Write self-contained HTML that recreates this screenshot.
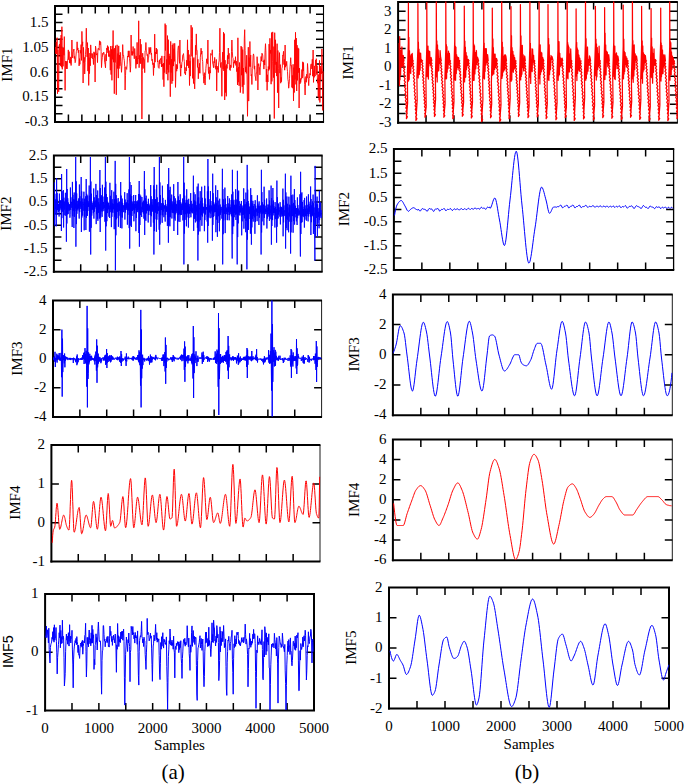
<!DOCTYPE html><html><head><meta charset="utf-8"><style>html,body{margin:0;padding:0;background:#fff;overflow:hidden;}svg{display:block;}</style></head><body><svg width="685" height="784" viewBox="0 0 685 784"><rect width="685" height="784" fill="#fff"/><path d="M68.42 6.00V13.50M68.42 122.00V114.50M81.85 6.00V13.50M81.85 122.00V114.50M95.28 6.00V13.50M95.28 122.00V114.50M108.70 6.00V13.50M108.70 122.00V114.50M122.12 6.00V13.50M122.12 122.00V114.50M135.55 6.00V13.50M135.55 122.00V114.50M148.97 6.00V13.50M148.97 122.00V114.50M162.40 6.00V13.50M162.40 122.00V114.50M175.82 6.00V13.50M175.82 122.00V114.50M189.25 6.00V13.50M189.25 122.00V114.50M202.68 6.00V13.50M202.68 122.00V114.50M216.10 6.00V13.50M216.10 122.00V114.50M229.53 6.00V13.50M229.53 122.00V114.50M242.95 6.00V13.50M242.95 122.00V114.50M256.38 6.00V13.50M256.38 122.00V114.50M269.80 6.00V13.50M269.80 122.00V114.50M283.23 6.00V13.50M283.23 122.00V114.50M296.65 6.00V13.50M296.65 122.00V114.50M310.07 6.00V13.50M310.07 122.00V114.50M55.00 113.71H62.50M323.50 113.71H316.00M55.00 105.43H62.50M323.50 105.43H316.00M55.00 97.14H62.50M323.50 97.14H316.00M55.00 88.86H62.50M323.50 88.86H316.00M55.00 80.57H62.50M323.50 80.57H316.00M55.00 72.29H62.50M323.50 72.29H316.00M55.00 64.00H62.50M323.50 64.00H316.00M55.00 55.71H62.50M323.50 55.71H316.00M55.00 47.43H62.50M323.50 47.43H316.00M55.00 39.14H62.50M323.50 39.14H316.00M55.00 30.86H62.50M323.50 30.86H316.00M55.00 22.57H62.50M323.50 22.57H316.00M55.00 14.29H62.50M323.50 14.29H316.00" stroke="#000" stroke-width="1.5" fill="none"/><path d="M323.05 6.00H55.00V122.00" stroke="#000" stroke-width="2" fill="none" stroke-linecap="square"/><path d="M55.00 122.00H323.05" stroke="#000" stroke-width="2" fill="none" stroke-linecap="square"/><path d="M323.50 6.00V122.00" stroke="#000" stroke-width="1.1" fill="none"/><path d="M80.71 155.60V163.10M80.71 271.80V264.30M107.52 155.60V163.10M107.52 271.80V264.30M134.33 155.60V163.10M134.33 271.80V264.30M161.14 155.60V163.10M161.14 271.80V264.30M187.95 155.60V163.10M187.95 271.80V264.30M214.76 155.60V163.10M214.76 271.80V264.30M241.57 155.60V163.10M241.57 271.80V264.30M268.38 155.60V163.10M268.38 271.80V264.30M295.19 155.60V163.10M295.19 271.80V264.30M53.90 260.18H61.40M322.00 260.18H314.50M53.90 248.56H61.40M322.00 248.56H314.50M53.90 236.94H61.40M322.00 236.94H314.50M53.90 225.32H61.40M322.00 225.32H314.50M53.90 213.70H61.40M322.00 213.70H314.50M53.90 202.08H61.40M322.00 202.08H314.50M53.90 190.46H61.40M322.00 190.46H314.50M53.90 178.84H61.40M322.00 178.84H314.50M53.90 167.22H61.40M322.00 167.22H314.50" stroke="#000" stroke-width="1.5" fill="none"/><path d="M321.65 155.60H53.90V271.80" stroke="#000" stroke-width="2" fill="none" stroke-linecap="square"/><path d="M53.90 271.80H321.65" stroke="#000" stroke-width="2" fill="none" stroke-linecap="square"/><path d="M322.00 155.60V271.80" stroke="#000" stroke-width="1.3" fill="none"/><path d="M79.86 300.60V308.10M79.86 416.90V409.40M106.72 300.60V308.10M106.72 416.90V409.40M133.58 300.60V308.10M133.58 416.90V409.40M160.44 300.60V308.10M160.44 416.90V409.40M187.30 300.60V308.10M187.30 416.90V409.40M214.16 300.60V308.10M214.16 416.90V409.40M241.02 300.60V308.10M241.02 416.90V409.40M267.88 300.60V308.10M267.88 416.90V409.40M294.74 300.60V308.10M294.74 416.90V409.40M53.00 387.82H60.50M321.60 387.82H314.10M53.00 358.75H60.50M321.60 358.75H314.10M53.00 329.68H60.50M321.60 329.68H314.10" stroke="#000" stroke-width="1.5" fill="none"/><path d="M321.05 300.60H53.00V416.90" stroke="#000" stroke-width="2" fill="none" stroke-linecap="square"/><path d="M53.00 416.90H321.05" stroke="#000" stroke-width="2" fill="none" stroke-linecap="square"/><path d="M321.60 300.60V416.90" stroke="#000" stroke-width="0.9" fill="none"/><path d="M78.26 445.10V452.60M78.26 561.50V554.00M105.12 445.10V452.60M105.12 561.50V554.00M131.98 445.10V452.60M131.98 561.50V554.00M158.84 445.10V452.60M158.84 561.50V554.00M185.70 445.10V452.60M185.70 561.50V554.00M212.56 445.10V452.60M212.56 561.50V554.00M239.42 445.10V452.60M239.42 561.50V554.00M266.28 445.10V452.60M266.28 561.50V554.00M293.14 445.10V452.60M293.14 561.50V554.00M51.40 522.70H58.90M320.00 522.70H312.50M51.40 483.90H58.90M320.00 483.90H312.50" stroke="#000" stroke-width="1.5" fill="none"/><path d="M319.45 445.10H51.40V561.50" stroke="#000" stroke-width="2" fill="none" stroke-linecap="square"/><path d="M51.40 561.50H319.45" stroke="#000" stroke-width="2" fill="none" stroke-linecap="square"/><path d="M320.00 445.10V561.50" stroke="#000" stroke-width="0.9" fill="none"/><path d="M71.99 594.00V601.50M71.99 710.40V702.90M98.88 594.00V601.50M98.88 710.40V702.90M125.77 594.00V601.50M125.77 710.40V702.90M152.66 594.00V601.50M152.66 710.40V702.90M179.55 594.00V601.50M179.55 710.40V702.90M206.44 594.00V601.50M206.44 710.40V702.90M233.33 594.00V601.50M233.33 710.40V702.90M260.22 594.00V601.50M260.22 710.40V702.90M287.11 594.00V601.50M287.11 710.40V702.90M45.10 652.20H52.60M314.00 652.20H306.50" stroke="#000" stroke-width="1.5" fill="none"/><path d="M314.00 594.00H45.10V710.40" stroke="#000" stroke-width="2" fill="none" stroke-linecap="square"/><path d="M45.10 710.40H314.00" stroke="#000" stroke-width="2" fill="none" stroke-linecap="square"/><path d="M314.00 594.00V710.40" stroke="#000" stroke-width="2.0" fill="none"/><path d="M426.03 2.00V9.50M426.03 122.80V115.30M453.96 2.00V9.50M453.96 122.80V115.30M481.89 2.00V9.50M481.89 122.80V115.30M509.82 2.00V9.50M509.82 122.80V115.30M537.75 2.00V9.50M537.75 122.80V115.30M565.68 2.00V9.50M565.68 122.80V115.30M593.61 2.00V9.50M593.61 122.80V115.30M621.54 2.00V9.50M621.54 122.80V115.30M649.47 2.00V9.50M649.47 122.80V115.30M398.10 113.51H405.60M677.40 113.51H669.90M398.10 104.22H405.60M677.40 104.22H669.90M398.10 94.92H405.60M677.40 94.92H669.90M398.10 85.63H405.60M677.40 85.63H669.90M398.10 76.34H405.60M677.40 76.34H669.90M398.10 67.05H405.60M677.40 67.05H669.90M398.10 57.75H405.60M677.40 57.75H669.90M398.10 48.46H405.60M677.40 48.46H669.90M398.10 39.17H405.60M677.40 39.17H669.90M398.10 29.88H405.60M677.40 29.88H669.90M398.10 20.58H405.60M677.40 20.58H669.90M398.10 11.29H405.60M677.40 11.29H669.90" stroke="#000" stroke-width="1.5" fill="none"/><path d="M676.85 2.00H398.10V122.80" stroke="#000" stroke-width="2" fill="none" stroke-linecap="square"/><path d="M398.10 122.80H676.85" stroke="#000" stroke-width="2" fill="none" stroke-linecap="square"/><path d="M677.40 2.00V122.80" stroke="#000" stroke-width="0.9" fill="none"/><path d="M421.87 149.10V156.60M421.87 270.00V262.50M449.84 149.10V156.60M449.84 270.00V262.50M477.81 149.10V156.60M477.81 270.00V262.50M505.78 149.10V156.60M505.78 270.00V262.50M533.75 149.10V156.60M533.75 270.00V262.50M561.72 149.10V156.60M561.72 270.00V262.50M589.69 149.10V156.60M589.69 270.00V262.50M617.66 149.10V156.60M617.66 270.00V262.50M645.63 149.10V156.60M645.63 270.00V262.50M393.90 257.91H401.40M673.60 257.91H666.10M393.90 245.82H401.40M673.60 245.82H666.10M393.90 233.73H401.40M673.60 233.73H666.10M393.90 221.64H401.40M673.60 221.64H666.10M393.90 209.55H401.40M673.60 209.55H666.10M393.90 197.46H401.40M673.60 197.46H666.10M393.90 185.37H401.40M673.60 185.37H666.10M393.90 173.28H401.40M673.60 173.28H666.10M393.90 161.19H401.40M673.60 161.19H666.10" stroke="#000" stroke-width="1.5" fill="none"/><path d="M673.25 149.10H393.90V270.00" stroke="#000" stroke-width="2" fill="none" stroke-linecap="square"/><path d="M393.90 270.00H673.25" stroke="#000" stroke-width="2" fill="none" stroke-linecap="square"/><path d="M673.60 149.10V270.00" stroke="#000" stroke-width="1.3" fill="none"/><path d="M420.84 294.40V301.90M420.84 415.20V407.70M448.78 294.40V301.90M448.78 415.20V407.70M476.72 294.40V301.90M476.72 415.20V407.70M504.66 294.40V301.90M504.66 415.20V407.70M532.60 294.40V301.90M532.60 415.20V407.70M560.54 294.40V301.90M560.54 415.20V407.70M588.48 294.40V301.90M588.48 415.20V407.70M616.42 294.40V301.90M616.42 415.20V407.70M644.36 294.40V301.90M644.36 415.20V407.70M392.90 385.00H400.40M672.30 385.00H664.80M392.90 354.80H400.40M672.30 354.80H664.80M392.90 324.60H400.40M672.30 324.60H664.80" stroke="#000" stroke-width="1.5" fill="none"/><path d="M671.75 294.40H392.90V415.20" stroke="#000" stroke-width="2" fill="none" stroke-linecap="square"/><path d="M392.90 415.20H671.75" stroke="#000" stroke-width="2" fill="none" stroke-linecap="square"/><path d="M672.30 294.40V415.20" stroke="#000" stroke-width="0.9" fill="none"/><path d="M420.84 439.50V447.00M420.84 560.20V552.70M448.78 439.50V447.00M448.78 560.20V552.70M476.72 439.50V447.00M476.72 560.20V552.70M504.66 439.50V447.00M504.66 560.20V552.70M532.60 439.50V447.00M532.60 560.20V552.70M560.54 439.50V447.00M560.54 560.20V552.70M588.48 439.50V447.00M588.48 560.20V552.70M616.42 439.50V447.00M616.42 560.20V552.70M644.36 439.50V447.00M644.36 560.20V552.70M392.90 540.08H400.40M672.30 540.08H664.80M392.90 519.97H400.40M672.30 519.97H664.80M392.90 499.85H400.40M672.30 499.85H664.80M392.90 479.73H400.40M672.30 479.73H664.80M392.90 459.62H400.40M672.30 459.62H664.80" stroke="#000" stroke-width="1.5" fill="none"/><path d="M671.75 439.50H392.90V560.20" stroke="#000" stroke-width="2" fill="none" stroke-linecap="square"/><path d="M392.90 560.20H671.75" stroke="#000" stroke-width="2" fill="none" stroke-linecap="square"/><path d="M672.30 439.50V560.20" stroke="#000" stroke-width="0.9" fill="none"/><path d="M417.00 587.50V595.00M417.00 708.50V701.00M445.00 587.50V595.00M445.00 708.50V701.00M473.00 587.50V595.00M473.00 708.50V701.00M501.00 587.50V595.00M501.00 708.50V701.00M529.00 587.50V595.00M529.00 708.50V701.00M557.00 587.50V595.00M557.00 708.50V701.00M585.00 587.50V595.00M585.00 708.50V701.00M613.00 587.50V595.00M613.00 708.50V701.00M641.00 587.50V595.00M641.00 708.50V701.00M389.00 678.25H396.50M669.00 678.25H661.50M389.00 648.00H396.50M669.00 648.00H661.50M389.00 617.75H396.50M669.00 617.75H661.50" stroke="#000" stroke-width="1.5" fill="none"/><path d="M669.00 587.50H389.00V708.50" stroke="#000" stroke-width="2" fill="none" stroke-linecap="square"/><path d="M389.00 708.50H669.00" stroke="#000" stroke-width="2" fill="none" stroke-linecap="square"/><path d="M669.00 587.50V708.50" stroke="#000" stroke-width="2.0" fill="none"/><clipPath id="ca1"><rect x="54.5" y="5.5" width="269.5" height="117.0"/></clipPath><path d="M55.5 47.0L55.9 54.0L56.3 42.0L56.7 54.0L57.1 37.7L57.5 93.7L57.9 49.7L58.3 83.4L58.7 91.8L59.1 45.7L59.5 44.2L59.9 54.8L60.3 38.5L60.7 66.1L61.1 35.1L61.5 67.2L61.9 26.7L62.3 69.3L62.7 48.0L63.1 66.3L63.5 47.6L63.9 55.1L64.3 36.6L64.7 56.1L65.1 90.4L65.5 61.0L65.9 61.8L66.3 68.8L66.7 61.3L67.1 68.9L67.5 60.4L67.9 59.0L68.3 49.9L68.7 59.7L69.1 51.6L69.5 62.8L69.9 59.6L70.3 63.4L70.7 56.9L71.1 65.5L71.5 59.7L71.9 40.0L72.3 54.1L72.7 57.9L73.1 52.1L73.5 51.4L73.9 49.0L74.3 58.5L74.7 56.3L75.1 62.7L75.5 61.7L75.9 56.7L76.3 51.6L76.7 51.0L77.1 41.8L77.5 50.0L77.9 47.9L78.3 52.7L78.7 50.2L79.1 65.9L79.5 58.6L79.9 64.3L80.3 50.2L80.7 53.2L81.1 44.6L81.5 60.4L81.9 31.4L82.3 45.6L82.7 41.8L83.1 83.0L83.5 47.4L83.9 62.7L84.3 57.4L84.7 74.0L85.1 62.7L85.5 54.4L85.9 48.3L86.3 28.2L86.7 46.4L87.1 56.9L87.5 42.6L87.9 71.1L88.3 48.0L88.7 85.4L89.1 57.7L89.5 73.6L89.9 53.1L90.3 65.8L90.7 44.9L91.1 52.7L91.5 53.9L91.9 58.1L92.3 53.5L92.7 59.0L93.1 58.3L93.5 64.5L93.9 51.8L94.3 57.5L94.7 52.7L95.1 82.0L95.5 46.1L95.9 48.5L96.3 53.7L96.7 55.1L97.1 53.3L97.5 62.6L97.9 49.6L98.3 48.1L98.7 48.7L99.1 50.2L99.5 40.8L99.9 45.0L100.3 41.5L100.7 42.1L101.1 51.4L101.5 67.6L101.9 61.1L102.3 57.6L102.7 53.3L103.1 54.4L103.5 52.1L103.9 52.5L104.3 55.9L104.7 62.3L105.1 64.5L105.5 67.8L105.9 54.3L106.3 60.9L106.7 48.1L107.1 50.1L107.5 45.6L107.9 52.8L108.3 46.7L108.7 56.6L109.1 50.6L109.5 56.5L109.9 54.5L110.3 70.2L110.7 46.1L111.1 74.6L111.5 49.3L111.9 80.3L112.3 45.9L112.7 59.4L113.1 30.5L113.5 62.2L113.9 49.2L114.3 93.7L114.7 48.1L115.1 62.4L115.5 45.7L115.9 63.8L116.3 94.8L116.7 64.8L117.1 44.8L117.5 68.5L117.9 53.6L118.3 78.1L118.7 45.9L119.1 68.6L119.5 55.1L119.9 65.8L120.3 52.3L120.7 61.6L121.1 65.1L121.5 72.3L121.9 65.7L122.3 56.6L122.7 44.6L123.1 54.3L123.5 54.9L123.9 58.4L124.3 60.3L124.7 66.5L125.1 90.0L125.5 75.3L125.9 66.7L126.3 68.9L126.7 69.4L127.1 64.6L127.5 56.0L127.9 57.0L128.3 50.9L128.7 57.1L129.1 50.8L129.5 58.7L129.9 63.0L130.3 72.2L130.7 66.3L131.1 35.0L131.5 53.8L131.9 55.4L132.3 51.4L132.7 55.3L133.1 46.5L133.5 53.1L133.9 54.5L134.3 58.8L134.7 48.5L135.1 54.7L135.5 58.3L135.9 68.4L136.3 56.1L136.7 64.3L137.1 42.4L137.5 64.0L137.9 58.0L138.3 58.6L138.7 20.8L139.1 67.7L139.5 55.4L139.9 63.4L140.3 39.1L140.7 63.7L141.1 44.3L141.5 57.5L141.9 119.0L142.3 70.4L142.7 53.2L143.1 68.5L143.5 57.5L143.9 59.9L144.3 59.7L144.7 72.7L145.1 50.8L145.5 50.4L145.9 42.5L146.3 52.1L146.7 52.6L147.1 55.5L147.5 54.5L147.9 62.4L148.3 58.0L148.7 57.2L149.1 47.3L149.5 54.1L149.9 48.4L150.3 52.5L150.7 47.3L151.1 54.5L151.5 53.1L151.9 60.6L152.3 59.3L152.7 64.5L153.1 63.4L153.5 75.5L153.9 62.8L154.3 67.8L154.7 34.1L155.1 62.2L155.5 52.1L155.9 53.6L156.3 48.0L156.7 53.9L157.1 49.4L157.5 61.9L157.9 60.8L158.3 67.6L158.7 67.9L159.1 68.3L159.5 59.8L159.9 63.9L160.3 60.2L160.7 58.9L161.1 57.9L161.5 67.0L161.9 55.9L162.3 66.4L162.7 64.0L163.1 79.6L163.5 63.2L163.9 86.7L164.3 56.0L164.7 72.6L165.1 23.6L165.5 50.5L165.9 25.1L166.3 74.1L166.7 59.4L167.1 69.7L167.5 35.6L167.9 80.3L168.3 39.7L168.7 72.4L169.1 53.8L169.5 64.6L169.9 56.0L170.3 96.7L170.7 41.4L171.1 72.6L171.5 59.3L171.9 83.7L172.3 45.0L172.7 81.0L173.1 43.5L173.5 66.1L173.9 48.7L174.3 61.4L174.7 43.3L175.1 58.9L175.5 87.4L175.9 73.0L176.3 64.3L176.7 71.2L177.1 65.3L177.5 68.7L177.9 50.3L178.3 46.2L178.7 45.9L179.1 57.2L179.5 63.3L179.9 40.0L180.3 68.6L180.7 76.2L181.1 64.8L181.5 68.0L181.9 62.3L182.3 61.5L182.7 55.2L183.1 54.9L183.5 53.6L183.9 58.9L184.3 61.4L184.7 73.3L185.1 72.1L185.5 74.8L185.9 67.4L186.3 70.9L186.7 60.2L187.1 65.7L187.5 39.8L187.9 65.6L188.3 50.0L188.7 67.9L189.1 54.6L189.5 85.5L189.9 60.9L190.3 76.1L190.7 57.6L191.1 25.2L191.5 38.6L191.9 56.3L192.3 27.5L192.7 78.4L193.1 58.6L193.5 83.5L193.9 57.5L194.3 81.5L194.7 88.9L195.1 75.0L195.5 45.3L195.9 54.8L196.3 33.9L196.7 50.5L197.1 50.3L197.5 67.4L197.9 59.3L198.3 78.8L198.7 67.4L199.1 73.0L199.5 63.3L199.9 73.3L200.3 57.8L200.7 52.8L201.1 48.2L201.5 54.2L201.9 51.0L202.3 59.3L202.7 61.5L203.1 73.3L203.5 76.7L203.9 83.2L204.3 72.7L204.7 79.6L205.1 85.0L205.5 75.8L205.9 68.3L206.3 63.5L206.7 58.8L207.1 63.5L207.5 63.8L207.9 40.0L208.3 70.4L208.7 73.6L209.1 66.9L209.5 79.4L209.9 70.2L210.3 73.1L210.7 53.5L211.1 54.6L211.5 54.9L211.9 54.7L212.3 49.8L212.7 63.1L213.1 64.8L213.5 67.7L213.9 61.5L214.3 62.8L214.7 57.4L215.1 67.4L215.5 66.2L215.9 69.3L216.3 59.4L216.7 91.0L217.1 66.0L217.5 69.3L217.9 67.8L218.3 72.5L218.7 62.3L219.1 61.1L219.5 52.4L219.9 28.2L220.3 62.5L220.7 67.5L221.1 62.3L221.5 74.0L221.9 96.3L222.3 60.3L222.7 52.1L223.1 69.3L223.5 32.2L223.9 71.0L224.3 33.6L224.7 100.0L225.1 60.2L225.5 92.5L225.9 65.7L226.3 96.3L226.7 64.4L227.1 68.4L227.5 55.4L227.9 64.0L228.3 48.0L228.7 58.8L229.1 53.3L229.5 69.6L229.9 69.4L230.3 70.5L230.7 64.9L231.1 67.6L231.5 51.7L231.9 40.0L232.3 51.2L232.7 57.5L233.1 58.5L233.5 67.7L233.9 62.1L234.3 63.0L234.7 60.4L235.1 63.5L235.5 56.7L235.9 65.4L236.3 61.1L236.7 71.6L237.1 68.4L237.5 85.0L237.9 37.8L238.3 82.2L238.7 67.0L239.1 85.8L239.5 62.5L239.9 69.2L240.3 92.6L240.7 86.5L241.1 46.1L241.5 75.2L241.9 47.2L242.3 86.8L242.7 49.6L243.1 93.6L243.5 68.0L243.9 84.8L244.3 38.9L244.7 29.7L245.1 50.6L245.5 71.9L245.9 66.8L246.3 73.4L246.7 55.2L247.1 79.0L247.5 116.3L247.9 84.2L248.3 47.2L248.7 101.1L249.1 57.6L249.5 66.4L249.9 41.5L250.3 66.7L250.7 55.0L251.1 75.7L251.5 74.5L251.9 84.5L252.3 68.5L252.7 68.0L253.1 55.9L253.5 53.9L253.9 56.0L254.3 69.2L254.7 65.9L255.1 76.0L255.5 77.0L255.9 80.7L256.3 72.9L256.7 73.1L257.1 56.7L257.5 63.8L257.9 90.0L258.3 66.5L258.7 63.6L259.1 66.6L259.5 68.0L259.9 74.9L260.3 67.1L260.7 62.8L261.1 56.5L261.5 61.1L261.9 53.2L262.3 53.7L262.7 55.0L263.1 62.0L263.5 60.8L263.9 69.1L264.3 59.8L264.7 65.0L265.1 50.3L265.5 43.7L265.9 52.2L266.3 81.8L266.7 69.0L267.1 90.4L267.5 74.8L267.9 82.0L268.3 66.5L268.7 70.7L269.1 44.1L269.5 69.4L269.9 38.3L270.3 53.5L270.7 50.0L271.1 84.2L271.5 32.6L271.9 81.4L272.3 61.7L272.7 31.9L273.1 63.4L273.5 77.6L273.9 46.6L274.3 118.5L274.7 32.7L275.1 64.7L275.5 39.8L275.9 72.9L276.3 61.9L276.7 76.1L277.1 43.7L277.5 92.7L277.9 50.5L278.3 68.6L278.7 108.0L279.1 63.9L279.5 52.6L279.9 73.1L280.3 64.6L280.7 83.2L281.1 77.4L281.5 81.7L281.9 68.4L282.3 67.1L282.7 55.1L283.1 55.7L283.5 51.3L283.9 64.6L284.3 59.4L284.7 70.2L285.1 45.0L285.5 67.2L285.9 63.7L286.3 65.6L286.7 61.3L287.1 68.0L287.5 71.5L287.9 79.5L288.3 81.5L288.7 88.2L289.1 84.5L289.5 78.3L289.9 69.6L290.3 63.7L290.7 57.7L291.1 66.0L291.5 65.5L291.9 87.4L292.3 75.4L292.7 88.2L293.1 64.3L293.5 101.0L293.9 67.6L294.3 92.5L294.7 39.8L295.1 79.5L295.5 32.3L295.9 84.4L296.3 38.1L296.7 91.0L297.1 45.2L297.5 80.4L297.9 47.8L298.3 72.7L298.7 48.6L299.1 108.0L299.5 68.1L299.9 84.0L300.3 78.4L300.7 82.5L301.1 79.3L301.5 79.2L301.9 69.5L302.3 78.1L302.7 61.8L303.1 71.1L303.5 62.6L303.9 76.2L304.3 79.0L304.7 84.7L305.1 95.0L305.5 82.2L305.9 76.5L306.3 82.3L306.7 74.2L307.1 78.1L307.5 63.5L307.9 69.3L308.3 79.2L308.7 85.6L309.1 78.5L309.5 78.0L309.9 73.4L310.3 75.1L310.7 65.1L311.1 63.8L311.5 64.2L311.9 69.0L312.3 59.3L312.7 76.2L313.1 50.0L313.5 82.4L313.9 70.5L314.3 77.3L314.7 65.9L315.1 76.1L315.5 60.1L315.9 65.8L316.3 58.7L316.7 74.6L317.1 65.7L317.5 83.2L317.9 78.5L318.3 97.0L318.7 74.5L319.1 100.3L319.5 60.4L319.9 102.5L320.3 66.0L320.7 79.9L321.1 68.6L321.5 73.8L321.9 49.0L322.3 64.9L322.7 110.4L323.1 71.3" stroke="#ff0000" stroke-width="0.9" fill="none" stroke-linejoin="round" clip-path="url(#ca1)"/><clipPath id="ca2"><rect x="53.4" y="155.1" width="269.1" height="117.2"/></clipPath><path d="M54.4 182.4L54.6 225.5L54.9 193.7L55.1 214.2L55.4 199.4L55.6 209.1L55.9 207.1L56.1 226.4L56.4 225.0L56.6 178.0L56.9 215.0L57.1 192.9L57.4 210.1L57.6 199.7L57.9 209.5L58.1 204.0L58.4 212.0L58.6 203.8L58.9 208.1L59.1 216.5L59.4 193.6L59.6 210.8L59.9 200.0L60.1 208.0L60.4 202.8L60.6 200.5L60.9 209.6L61.1 203.9L61.4 231.0L61.6 174.0L61.9 218.1L62.1 191.2L62.4 211.7L62.6 199.0L62.9 208.2L63.1 198.1L63.4 190.1L63.6 227.5L63.9 197.7L64.2 215.3L64.4 201.5L64.7 209.7L64.9 208.0L65.2 204.7L65.4 192.8L65.7 215.7L65.9 199.1L66.2 210.0L66.4 241.7L66.7 169.0L66.9 223.5L67.2 189.0L67.4 214.4L67.7 198.1L67.9 199.7L68.2 214.1L68.4 202.5L68.7 209.2L68.9 210.5L69.2 204.7L69.4 210.3L69.7 204.2L69.9 217.7L70.2 214.4L70.4 187.5L70.7 209.9L70.9 197.3L71.2 207.7L71.4 201.8L71.7 203.7L71.9 208.7L72.2 227.0L72.4 181.9L72.7 216.2L72.9 194.9L73.2 210.9L73.4 200.8L73.7 199.3L73.9 228.0L74.2 192.5L74.4 216.8L74.7 199.7L74.9 211.1L75.2 202.9L75.4 208.4L75.7 157.0L75.9 246.7L76.2 181.3L76.4 224.1L76.7 193.4L76.9 213.8L77.2 201.1L77.4 208.8L77.7 204.3L77.9 210.4L78.2 200.5L78.4 208.5L78.7 198.4L78.9 206.3L79.2 218.6L79.4 184.5L79.7 212.1L79.9 196.2L80.2 208.9L80.4 201.4L80.7 203.3L80.9 206.8L81.2 177.0L81.4 232.0L81.7 191.4L81.9 217.5L82.2 198.5L82.4 211.0L82.7 215.6L82.9 201.8L83.2 210.7L83.4 204.0L83.7 204.8L83.9 191.7L84.2 230.3L84.4 198.7L84.7 216.8L84.9 202.3L85.2 210.7L85.4 209.6L85.7 196.3L85.9 230.0L86.2 179.0L86.4 217.9L86.7 193.8L86.9 211.9L87.2 200.5L87.4 215.9L87.7 195.5L87.9 210.9L88.2 201.3L88.4 206.7L88.7 203.1L88.9 206.6L89.2 185.5L89.4 231.7L89.7 195.7L89.9 217.5L90.2 200.8L90.4 157.0L90.7 254.5L90.9 181.5L91.2 227.8L91.4 193.7L91.7 215.7L91.9 213.6L92.2 202.9L92.4 209.4L92.7 205.0L92.9 209.8L93.2 201.3L93.4 213.2L93.7 188.5L93.9 218.6L94.2 197.3L94.4 211.7L94.7 201.7L94.9 208.6L95.2 200.5L95.4 207.0L95.7 204.1L95.9 183.9L96.2 224.1L96.4 195.0L96.7 214.2L96.9 200.5L97.2 209.7L97.4 218.8L97.7 190.5L97.9 220.8L98.2 198.3L98.4 212.8L98.7 202.2L98.9 209.1L99.2 204.4L99.4 218.6L99.7 197.2L99.9 170.0L100.2 232.0L100.4 188.1L100.7 217.8L100.9 197.2L101.2 211.4L101.4 209.0L101.7 195.3L101.9 214.3L102.2 216.8L102.4 184.8L102.7 211.5L102.9 196.6L103.2 208.9L103.4 202.0L103.7 205.7L103.9 210.8L104.2 205.0L104.4 207.9L104.7 187.5L104.9 221.7L105.2 196.9L105.4 157.0L105.7 250.6L105.9 181.7L106.2 226.3L106.4 194.0L106.7 215.2L106.9 221.2L107.2 197.1L107.4 213.1L107.7 201.7L107.9 209.4L108.2 203.4L108.4 209.1L108.7 202.8L108.9 216.7L109.2 205.5L109.4 211.4L109.7 218.0L109.9 182.8L110.2 212.2L110.4 195.8L110.7 209.4L110.9 201.7L111.2 205.4L111.4 227.1L111.7 190.2L111.9 216.8L112.2 199.2L112.4 211.7L112.7 203.2L112.9 212.8L113.2 204.0L113.4 209.2L113.7 205.2L113.9 191.7L114.2 229.2L114.4 199.1L114.7 216.8L114.9 202.9L115.2 160.9L115.4 270.3L115.7 183.8L115.9 235.3L116.2 195.2L116.4 219.3L116.7 199.2L116.9 218.2L117.2 202.9L117.4 211.8L117.7 204.2L117.9 206.8L118.2 198.0L118.4 226.8L118.7 202.4L118.9 215.7L119.2 204.5L119.4 210.7L119.7 201.6L119.9 208.5L120.2 217.8L120.4 228.0L120.7 182.0L120.9 217.4L121.2 195.6L121.4 212.1L121.7 201.8L121.9 228.4L122.2 198.6L122.4 217.6L122.7 203.1L122.9 212.2L123.2 205.1L123.4 207.2L123.7 206.7L123.9 212.1L124.2 205.6L124.4 209.7L124.7 192.2L124.9 219.6L125.2 199.5L125.4 212.6L125.7 203.2L125.9 209.4L126.2 202.2L126.4 208.0L126.7 203.5L126.9 209.9L127.2 193.2L127.4 224.7L127.7 200.1L127.9 214.9L128.2 203.5L128.4 210.5L128.7 202.2L128.9 189.4L129.2 228.1L129.4 157.0L129.7 248.6L129.9 182.0L130.2 225.7L130.4 194.5L130.7 215.3L130.9 211.9L131.2 185.0L131.4 227.0L131.7 196.0L131.9 216.0L132.2 201.5L132.4 211.0L132.7 204.2L132.9 208.3L133.2 203.2L133.4 209.8L133.7 195.0L133.9 221.3L134.2 201.1L134.4 213.5L134.7 204.1L134.9 209.9L135.2 204.4L135.4 208.1L135.7 195.0L135.9 231.2L136.2 201.1L136.4 218.0L136.7 204.1L136.9 212.0L137.2 202.1L137.4 210.2L137.7 200.5L137.9 212.2L138.2 202.1L138.4 209.6L138.7 194.0L138.9 233.0L139.2 181.0L139.4 246.7L139.7 194.1L139.9 225.0L140.2 200.7L140.4 215.1L140.7 195.6L140.9 212.6L141.2 206.8L141.4 213.3L141.7 217.0L141.9 197.0L142.2 212.2L142.4 202.6L142.7 209.7L142.9 205.2L143.2 201.6L143.4 213.6L143.7 200.7L143.9 218.6L144.2 185.4L144.4 171.0L144.7 235.0L144.9 189.2L145.2 219.8L145.4 198.3L145.7 212.9L145.9 220.8L146.2 195.7L146.4 213.4L146.7 201.6L146.9 210.1L147.2 204.7L147.4 210.7L147.7 204.0L147.9 207.6L148.2 222.5L148.4 198.8L148.7 215.0L148.9 203.6L149.2 211.2L149.4 205.7L149.7 206.8L149.9 209.6L150.2 204.8L150.4 215.2L150.7 185.0L150.9 226.8L151.2 196.3L151.4 216.2L151.7 201.9L151.9 211.4L152.2 199.2L152.4 210.2L152.7 204.7L152.9 211.7L153.2 205.6L153.4 222.7L153.7 185.4L153.9 254.5L154.2 167.0L154.4 231.1L154.7 189.3L154.9 219.3L155.2 199.5L155.4 212.6L155.7 199.1L155.9 209.2L156.2 204.2L156.4 231.7L156.7 184.8L156.9 219.7L157.2 197.4L157.4 213.7L157.7 203.1L157.9 207.8L158.2 202.1L158.4 210.9L158.7 206.5L158.9 217.7L159.2 229.8L159.4 157.0L159.7 244.7L159.9 182.4L160.2 224.4L160.4 195.1L160.7 215.2L160.9 208.3L161.2 205.8L161.4 210.0L161.7 203.2L161.9 212.0L162.2 222.8L162.4 185.7L162.7 215.3L162.9 197.9L163.2 211.6L163.4 203.4L163.7 205.3L163.9 217.2L164.2 206.0L164.4 208.5L164.7 205.2L164.9 214.2L165.2 221.6L165.4 199.9L165.7 214.8L165.9 204.3L166.2 211.3L166.4 206.3L166.7 207.3L166.9 212.0L167.2 207.2L167.4 225.9L167.7 184.2L167.9 216.9L168.2 197.3L168.4 242.7L168.7 168.0L168.9 225.4L169.2 190.0L169.4 216.7L169.7 200.0L169.9 226.3L170.2 186.8L170.4 217.2L170.7 198.5L170.9 212.6L171.2 203.8L171.4 209.7L171.7 194.6L171.9 218.5L172.2 201.4L172.4 212.8L172.7 204.7L172.9 210.2L173.2 203.4L173.4 213.2L173.7 184.2L173.9 231.0L174.2 196.2L174.4 218.4L174.7 202.2L174.9 212.7L175.2 220.6L175.4 198.4L175.7 214.4L175.9 203.8L176.2 211.3L176.4 206.2L176.7 204.3L176.9 212.9L177.2 200.6L177.4 211.7L177.7 235.0L177.9 182.0L178.2 221.6L178.4 196.4L178.7 214.9L178.9 203.0L179.2 214.2L179.4 203.6L179.7 200.0L179.9 221.9L180.2 194.3L180.4 215.1L180.7 202.0L180.9 211.7L181.2 205.5L181.4 215.0L181.7 203.6L181.9 209.7L182.2 206.7L182.4 210.0L182.7 198.5L182.9 220.4L183.2 203.4L183.4 213.8L183.7 157.0L183.9 264.4L184.2 182.7L184.4 233.6L184.7 195.6L184.9 219.6L185.2 219.9L185.4 202.8L185.7 214.2L185.9 205.9L186.2 199.9L186.4 226.3L186.7 189.3L186.9 217.4L187.2 199.8L187.4 212.9L187.7 204.6L187.9 213.7L188.2 202.9L188.4 227.6L188.7 198.8L188.9 218.1L189.2 204.1L189.4 213.3L189.7 206.6L189.9 213.8L190.2 208.1L190.4 210.9L190.7 193.1L190.9 217.3L191.2 200.9L191.4 212.5L191.7 204.7L191.9 210.3L192.2 203.8L192.4 213.3L192.7 207.9L192.9 211.1L193.2 197.9L193.4 175.7L193.7 230.9L193.9 192.2L194.2 218.7L194.4 200.4L194.7 213.1L194.9 218.8L195.2 194.3L195.4 222.4L195.7 201.5L195.9 214.9L196.2 205.1L196.4 211.4L196.7 206.8L196.9 221.3L197.2 186.6L197.4 227.8L197.7 197.7L197.9 260.5L198.2 183.6L198.4 234.6L198.7 197.4L198.9 221.7L199.2 203.7L199.4 209.2L199.7 207.9L199.9 231.4L200.2 191.2L200.4 220.1L200.7 200.9L200.9 214.5L201.2 205.3L201.4 215.2L201.7 186.7L201.9 225.8L202.2 197.8L202.4 216.5L202.7 203.3L202.9 212.3L203.2 207.6L203.4 210.3L203.7 206.8L203.9 213.4L204.2 207.7L204.4 231.2L204.7 185.8L204.9 220.1L205.2 198.5L205.4 214.5L205.7 204.3L205.9 209.8L206.2 207.7L206.4 209.3L206.7 207.0L206.9 217.4L207.2 221.6L207.4 191.3L207.7 242.7L207.9 159.0L208.2 225.9L208.4 186.5L208.7 217.4L208.9 199.0L209.2 204.0L209.4 212.4L209.7 205.5L209.9 213.8L210.2 218.2L210.4 191.0L210.7 213.6L210.9 201.0L211.2 211.4L211.4 205.5L211.7 206.3L211.9 217.6L212.2 206.5L212.4 240.7L212.7 173.7L212.9 224.9L213.2 193.2L213.4 217.0L213.7 202.1L213.9 216.2L214.2 207.1L214.4 212.3L214.7 204.5L214.9 211.7L215.2 203.4L215.4 212.0L215.7 185.4L215.9 232.2L216.2 197.3L216.4 219.6L216.7 203.3L216.9 213.8L217.2 208.9L217.4 236.8L217.7 190.0L217.9 223.0L218.2 200.6L218.4 216.2L218.7 205.4L218.9 207.5L219.2 208.6L219.4 231.3L219.7 198.7L219.9 220.3L220.2 204.5L220.4 214.8L220.7 207.2L220.9 212.6L221.2 206.9L221.4 209.9L221.7 209.3L221.9 218.7L222.2 205.7L222.4 168.8L222.7 264.4L222.9 189.1L223.2 234.2L223.4 199.3L223.7 220.4L223.9 219.7L224.2 205.1L224.4 213.9L224.7 208.8L224.9 187.6L225.2 233.1L225.4 198.6L225.7 220.1L225.9 204.0L226.2 214.2L226.4 212.4L226.7 207.6L226.9 211.8L227.2 209.1L227.4 220.2L227.7 196.0L227.9 214.9L228.2 203.4L228.4 212.2L228.7 206.8L228.9 212.2L229.2 220.3L229.4 198.4L229.7 215.0L229.9 204.5L230.2 212.3L230.4 207.3L230.7 209.2L230.9 214.0L231.2 200.0L231.4 216.3L231.7 194.4L231.9 231.1L232.2 258.5L232.4 169.8L232.7 234.1L232.9 191.7L233.2 221.9L233.4 201.7L233.7 226.3L233.9 199.8L234.2 217.2L234.4 204.8L234.7 213.0L234.9 210.5L235.2 205.8L235.4 214.7L235.7 189.3L235.9 220.0L236.2 199.5L236.4 214.4L236.7 204.6L236.9 211.8L237.2 264.4L237.4 170.8L237.7 237.1L237.9 192.2L238.2 223.4L238.4 202.0L238.7 190.6L238.9 214.9L239.2 201.2L239.4 212.4L239.7 206.0L239.9 215.5L240.2 208.0L240.4 212.5L240.7 203.8L240.9 211.4L241.2 208.9L241.4 201.0L241.7 235.3L241.9 205.4L242.2 221.3L242.4 207.7L242.7 215.0L242.9 211.8L243.2 205.9L243.4 214.6L243.7 188.3L243.9 228.7L244.2 199.1L244.4 218.4L244.7 204.6L244.9 213.7L245.2 204.2L245.4 221.5L245.7 232.2L245.9 192.6L246.2 221.1L246.4 202.2L246.7 215.6L246.9 269.3L247.2 164.9L247.4 239.7L247.7 189.7L247.9 224.9L248.2 201.0L248.4 229.9L248.7 203.4L248.9 219.0L249.2 206.7L249.4 214.1L249.7 209.4L249.9 211.1L250.2 206.5L250.4 233.7L250.7 188.2L250.9 221.9L251.2 200.3L251.4 244.7L251.7 195.0L251.9 227.4L252.2 203.3L252.4 218.8L252.7 207.1L252.9 200.8L253.2 221.6L253.4 206.0L253.7 215.9L253.9 208.3L254.2 204.0L254.4 217.4L254.7 209.8L254.9 233.8L255.2 200.2L255.4 222.0L255.7 205.7L255.9 216.1L256.1 208.3L256.4 211.7L256.6 209.2L256.9 214.0L257.1 221.2L257.4 195.3L257.6 215.7L257.9 203.6L258.1 213.0L258.4 207.3L258.6 205.7L258.9 225.0L259.1 201.4L259.4 217.7L259.6 206.3L259.9 214.0L260.1 208.6L260.4 212.4L260.6 205.5L260.9 213.3L261.1 254.5L261.4 169.8L261.6 232.5L261.9 192.1L262.1 221.4L262.4 202.3L262.6 210.4L262.9 214.1L263.1 208.4L263.4 212.9L263.6 204.6L263.9 225.3L264.1 186.7L264.4 217.9L264.6 199.8L264.9 214.2L265.1 205.7L265.4 212.0L265.6 208.8L265.9 214.1L266.1 210.0L266.4 212.1L266.6 198.5L266.9 228.5L267.1 204.5L267.4 218.6L267.6 207.6L267.9 214.1L268.1 208.6L268.4 214.2L268.6 204.6L268.9 216.6L269.1 190.3L269.4 220.9L269.6 200.5L269.9 215.3L270.1 205.6L270.4 212.7L270.6 209.6L270.9 219.2L271.1 185.6L271.4 244.7L271.6 198.1L271.9 226.0L272.1 204.4L272.4 217.5L272.6 220.1L272.9 188.0L273.1 215.4L273.4 200.5L273.6 213.1L273.9 206.2L274.1 208.2L274.4 212.8L274.6 208.1L274.9 227.5L275.1 202.1L275.4 219.1L275.6 206.9L275.9 215.0L276.1 209.0L276.4 216.0L276.6 242.7L276.9 180.6L277.1 226.8L277.4 197.2L277.6 218.8L277.9 204.8L278.1 218.4L278.4 203.5L278.6 214.6L278.9 207.6L279.1 207.2L279.4 211.4L279.6 210.4L279.9 216.6L280.1 202.2L280.4 224.4L280.6 206.6L280.9 217.0L281.1 208.7L281.4 213.6L281.6 206.9L281.9 215.7L282.1 207.9L282.4 216.3L282.6 210.4L282.9 188.6L283.1 236.3L283.4 199.8L283.6 222.4L283.9 205.4L284.1 216.1L284.4 215.3L284.6 210.4L284.9 211.6L285.1 203.0L285.4 173.7L285.6 248.6L285.9 192.4L286.1 228.0L286.4 201.7L286.6 218.6L286.9 196.5L287.1 230.2L287.4 203.8L287.6 219.7L287.9 207.4L288.1 214.9L288.4 212.7L288.6 232.3L288.9 196.7L289.1 221.7L289.4 204.7L289.6 216.4L289.9 208.3L290.1 205.4L290.4 212.0L290.6 253.6L290.9 175.7L291.1 232.4L291.4 195.2L291.6 221.8L291.9 204.1L292.1 206.8L292.4 216.1L292.6 203.9L292.9 194.6L293.1 232.7L293.4 202.9L293.6 220.9L293.9 207.1L294.1 215.5L294.4 189.0L294.6 224.6L294.9 200.1L295.1 217.3L295.4 205.7L295.6 214.0L295.9 211.7L296.1 208.7L296.4 221.3L296.6 208.0L296.9 217.3L297.1 225.0L297.4 197.4L297.6 218.2L297.9 205.1L298.1 214.8L298.4 208.6L298.6 209.2L298.9 215.7L299.1 210.7L299.4 214.5L299.6 209.2L299.9 194.3L300.1 226.3L300.4 256.5L300.6 171.8L300.9 234.0L301.1 193.6L301.4 222.7L301.6 203.5L301.9 192.4L302.1 222.2L302.4 201.9L302.6 216.3L302.9 206.7L303.1 213.6L303.4 215.7L303.6 209.0L303.9 217.1L304.1 200.1L304.4 227.6L304.6 197.9L304.9 219.6L305.1 205.4L305.4 215.6L305.6 208.8L305.9 216.2L306.1 211.5L306.4 220.7L306.6 196.5L306.9 216.1L307.1 204.8L307.4 213.9L307.6 208.6L307.9 212.2L308.1 221.4L308.4 194.3L308.6 216.5L308.9 203.8L309.1 214.1L309.4 208.2L309.6 206.5L309.9 211.8L310.1 201.7L310.4 216.6L310.6 186.5L310.9 235.0L311.1 199.1L311.4 222.2L311.6 205.4L311.9 216.4L312.1 207.0L312.4 215.1L312.6 201.4L312.9 215.8L313.1 194.6L313.4 233.9L313.6 203.2L313.9 221.7L314.1 207.5L314.4 216.2L314.6 232.4L314.9 260.5L315.1 165.9L315.4 236.2L315.6 191.2L315.9 224.0L316.1 202.6L316.4 217.9L316.6 204.2L316.9 214.0L317.1 196.6L317.4 236.5L317.6 204.3L317.9 222.9L318.1 208.1L318.4 216.8L318.6 211.8L318.9 216.5L319.1 228.3L319.4 190.8L319.6 220.1L319.9 202.4L320.1 216.0L320.4 207.7L320.6 202.6L320.9 217.7L321.1 210.2L321.4 218.3" stroke="#0000ff" stroke-width="0.9" fill="none" stroke-linejoin="round" clip-path="url(#ca2)"/><clipPath id="ca3"><rect x="52.5" y="300.1" width="269.6" height="117.3"/></clipPath><path d="M53.5 360.2L53.8 357.5L54.1 359.0L54.4 356.4L54.7 361.7L55.0 351.8L55.3 367.0L55.6 357.9L55.9 361.5L56.2 358.7L56.5 359.9L56.8 353.7L57.1 362.6L57.4 355.5L57.7 359.5L58.0 354.8L58.3 359.1L58.6 356.0L58.9 358.5L59.2 353.0L59.5 359.8L59.8 356.8L60.1 361.0L60.4 358.1L60.7 359.8L61.0 352.9L61.3 359.4L61.6 377.2L61.9 329.6L62.2 396.6L62.5 338.7L62.8 372.1L63.1 360.0L63.4 355.1L63.7 360.1L64.0 357.3L64.3 363.3L64.6 353.5L64.9 367.3L65.2 356.4L65.5 360.6L65.8 356.7L66.1 359.4L66.4 357.1L66.7 358.2L67.0 358.7L67.3 358.9L67.6 357.5L67.9 360.1L68.2 358.8L68.5 358.3L68.8 358.5L69.1 359.3L69.4 357.9L69.7 359.5L70.0 358.7L70.3 359.9L70.6 357.9L70.9 360.1L71.2 358.3L71.5 359.1L71.8 358.5L72.1 359.3L72.4 358.3L72.7 359.4L73.0 358.1L73.3 363.0L73.6 357.7L73.9 359.8L74.2 358.9L74.5 358.3L74.8 358.0L75.1 360.4L75.4 359.3L75.7 362.2L76.0 358.9L76.3 361.0L76.6 356.4L76.9 365.2L77.2 354.5L77.5 363.6L77.8 358.6L78.1 362.2L78.4 358.3L78.7 360.2L79.0 358.6L79.3 359.2L79.6 359.2L79.9 359.7L80.2 358.8L80.5 359.4L80.8 358.2L81.1 359.9L81.4 358.4L81.7 359.8L82.0 357.5L82.3 359.6L82.6 355.2L82.9 359.4L83.2 355.6L83.5 358.9L83.8 352.8L84.1 364.0L84.4 352.4L84.7 359.9L85.0 348.1L85.3 362.7L85.6 354.0L85.9 363.6L86.2 350.8L86.5 365.4L86.8 386.7L87.1 305.9L87.4 407.4L87.7 328.3L88.0 379.0L88.3 373.5L88.6 352.4L88.9 364.4L89.2 356.2L89.5 362.3L89.8 353.8L90.1 360.8L90.4 356.0L90.7 360.0L91.0 355.9L91.3 360.4L91.6 355.8L91.9 359.9L92.2 357.8L92.5 359.7L92.8 358.0L93.1 358.5L93.4 358.8L93.7 360.2L94.0 358.1L94.3 361.3L94.6 356.6L94.9 364.5L95.2 354.7L95.5 360.7L95.8 351.6L96.1 359.3L96.4 370.7L96.7 339.4L97.0 382.8L97.3 345.7L97.6 367.4L97.9 363.2L98.2 353.6L98.5 363.5L98.8 356.7L99.1 360.5L99.4 357.5L99.7 361.6L100.0 357.3L100.3 361.1L100.6 359.2L100.9 363.2L101.2 358.1L101.5 361.5L101.8 359.2L102.1 358.6L102.4 358.6L102.7 358.9L103.0 357.3L103.3 360.4L103.6 358.6L103.9 360.3L104.2 357.0L104.5 359.4L104.8 355.6L105.1 360.8L105.4 354.8L105.7 364.9L106.0 357.4L106.3 364.0L106.6 349.0L106.9 368.0L107.2 353.0L107.5 362.6L107.8 357.1L108.1 362.0L108.4 356.6L108.7 359.8L109.0 355.9L109.3 361.2L109.6 355.5L109.9 359.7L110.2 355.5L110.5 362.3L110.8 358.0L111.1 361.5L111.4 355.2L111.7 359.3L112.0 358.0L112.3 359.2L112.6 356.4L112.9 359.9L113.2 357.5L113.5 359.2L113.8 358.5L114.1 359.1L114.4 359.5L114.7 359.5L115.0 357.9L115.3 357.7L115.6 358.7L115.9 358.4L116.2 358.3L116.5 359.6L116.8 357.7L117.1 358.3L117.4 356.7L117.7 360.2L118.0 357.6L118.3 359.5L118.6 357.5L118.9 358.9L119.2 357.4L119.5 361.4L119.8 356.4L120.1 361.8L120.4 357.9L120.7 362.9L121.0 351.0L121.3 366.0L121.6 354.2L121.9 361.8L122.2 358.9L122.5 359.6L122.8 358.1L123.1 360.8L123.4 360.2L123.7 358.8L124.0 359.6L124.3 359.4L124.6 358.5L124.9 358.7L125.2 356.6L125.5 360.9L125.8 357.8L126.1 365.9L126.4 353.4L126.7 361.5L127.0 358.1L127.3 359.0L127.6 357.8L127.9 358.7L128.2 356.6L128.5 358.9L128.8 359.3L129.1 358.6L129.4 357.8L129.7 358.0L130.0 359.1L130.3 358.7L130.6 358.1L130.9 358.7L131.2 357.8L131.5 359.4L131.8 358.4L132.1 359.0L132.4 357.5L132.7 360.3L133.0 356.2L133.3 360.6L133.6 356.3L133.9 359.0L134.2 356.9L134.5 358.1L134.8 359.0L135.1 359.4L135.4 357.9L135.7 359.4L136.0 358.1L136.3 357.3L136.6 358.1L136.9 360.0L137.2 357.4L137.5 359.1L137.8 355.0L138.1 360.3L138.4 354.9L138.7 361.8L139.0 350.3L139.3 363.1L139.6 351.9L139.9 365.2L140.2 352.7L140.5 385.6L140.8 309.9L141.1 407.4L141.4 329.5L141.7 378.3L142.0 355.7L142.3 368.6L142.6 354.7L142.9 365.1L143.2 359.1L143.5 360.1L143.8 357.8L144.1 359.8L144.4 358.5L144.7 361.5L145.0 359.1L145.3 359.5L145.6 358.8L145.9 358.8L146.2 359.0L146.5 360.5L146.8 358.6L147.1 359.8L147.4 358.4L147.7 360.2L148.0 357.7L148.3 361.1L148.6 356.3L148.9 360.2L149.2 357.9L149.5 364.6L149.8 358.5L150.1 362.4L150.4 354.6L150.7 362.4L151.0 357.5L151.3 362.3L151.6 356.4L151.9 362.3L152.2 358.4L152.5 359.5L152.8 356.9L153.1 358.8L153.4 357.4L153.7 358.0L154.0 359.1L154.3 358.2L154.6 357.8L154.9 359.7L155.2 356.7L155.5 360.3L155.8 354.9L156.1 358.6L156.4 356.8L156.7 357.8L157.0 357.6L157.3 359.4L157.6 358.8L157.9 357.7L158.2 357.7L158.5 358.1L158.8 358.4L159.1 358.3L159.4 358.5L159.7 358.6L160.0 358.1L160.3 358.7L160.6 358.2L160.9 358.5L161.2 358.5L161.5 360.7L161.8 357.7L162.1 359.4L162.4 357.3L162.7 361.0L163.0 354.6L163.3 359.5L163.6 354.6L163.9 366.1L164.2 357.2L164.5 362.7L164.8 352.1L165.1 371.5L165.4 337.5L165.7 383.8L166.0 344.9L166.3 368.0L166.6 358.2L166.9 361.5L167.2 357.7L167.5 359.0L167.8 358.9L168.1 359.4L168.4 358.6L168.7 360.3L169.0 359.7L169.3 359.1L169.6 359.0L169.9 359.6L170.2 358.5L170.5 359.2L170.8 357.2L171.1 359.2L171.4 358.2L171.7 360.2L172.0 357.2L172.3 362.0L172.6 357.3L172.9 360.2L173.2 355.0L173.5 359.8L173.8 356.2L174.1 361.3L174.4 357.0L174.7 358.3L175.0 357.5L175.3 359.1L175.6 358.6L175.9 357.6L176.2 359.0L176.5 359.2L176.8 359.1L177.1 358.4L177.4 358.1L177.7 357.8L178.0 359.8L178.3 358.3L178.6 359.1L178.9 358.1L179.2 358.2L179.5 357.4L179.8 357.4L180.1 359.1L180.4 356.3L180.7 359.7L181.0 355.4L181.3 357.7L181.6 354.6L181.9 361.2L182.2 354.9L182.5 358.3L182.8 355.0L183.1 360.7L183.4 354.9L183.7 358.4L184.0 348.6L184.3 369.9L184.6 341.4L184.9 381.8L185.2 346.6L185.5 366.8L185.8 356.5L186.1 360.6L186.4 356.6L186.7 361.2L187.0 357.7L187.3 359.7L187.6 355.4L187.9 363.4L188.2 356.4L188.5 360.7L188.8 355.0L189.1 360.3L189.4 358.7L189.7 360.2L190.0 358.9L190.3 360.9L190.6 358.1L190.9 358.5L191.2 356.4L191.5 362.6L191.8 354.3L192.1 364.3L192.4 353.5L192.7 361.5L193.0 378.5L193.3 326.0L193.6 398.0L193.9 337.2L194.2 373.1L194.5 359.2L194.8 354.3L195.1 363.1L195.4 356.4L195.7 360.2L196.0 351.3L196.3 359.1L196.6 358.6L196.9 366.1L197.2 358.0L197.5 361.5L197.8 355.7L198.1 361.8L198.4 358.8L198.7 358.2L199.0 357.5L199.3 358.1L199.6 357.6L199.9 359.0L200.2 358.8L200.5 357.9L200.8 357.3L201.1 358.8L201.4 358.7L201.7 357.2L202.0 352.5L202.3 363.8L202.6 354.9L202.9 359.6L203.2 351.7L203.5 361.8L203.8 355.2L204.1 359.7L204.4 358.7L204.7 358.3L205.0 357.6L205.3 357.3L205.6 357.4L205.9 358.6L206.2 358.2L206.5 358.8L206.8 356.3L207.1 359.0L207.4 356.5L207.7 362.0L208.0 358.3L208.3 360.5L208.6 356.9L208.9 359.2L209.2 358.0L209.5 361.6L209.8 358.8L210.1 359.4L210.4 358.0L210.7 359.2L211.0 358.7L211.3 359.7L211.6 358.5L211.9 358.6L212.2 358.9L212.5 359.0L212.8 359.0L213.1 359.6L213.4 358.0L213.7 359.8L214.0 357.6L214.3 359.4L214.6 357.3L214.9 359.5L215.2 351.4L215.5 363.1L215.8 356.2L216.1 362.7L216.4 353.7L216.7 363.9L217.0 349.6L217.3 361.8L217.6 351.0L217.9 365.6L218.2 386.8L218.5 313.0L218.8 415.0L219.1 328.2L219.4 379.1L219.7 368.3L220.0 354.3L220.3 364.0L220.6 354.0L220.9 362.2L221.2 357.4L221.5 362.5L221.8 357.1L222.1 362.1L222.4 355.9L222.7 361.6L223.0 356.3L223.3 362.8L223.6 357.3L223.9 360.3L224.2 355.3L224.5 360.9L224.8 355.1L225.1 360.3L225.4 355.6L225.7 361.7L226.0 351.9L226.3 361.3L226.6 351.5L226.9 364.3L227.2 350.1L227.5 363.4L227.8 370.6L228.1 336.0L228.4 379.0L228.7 345.9L229.0 367.3L229.3 361.1L229.6 354.4L229.9 360.3L230.2 358.3L230.5 358.5L230.8 357.3L231.1 359.5L231.4 358.4L231.7 360.5L232.0 357.3L232.3 359.5L232.6 356.4L232.9 359.8L233.2 356.4L233.5 360.8L233.8 357.7L234.1 359.9L234.4 357.3L234.7 359.0L235.0 357.5L235.3 359.4L235.6 357.1L235.9 359.7L236.2 357.7L236.5 363.4L236.8 358.4L237.1 361.2L237.4 355.6L237.7 360.2L238.0 356.3L238.3 364.8L238.6 353.2L238.9 363.4L239.2 357.6L239.5 361.6L239.8 358.2L240.1 362.2L240.4 356.5L240.7 359.4L241.0 358.1L241.3 361.0L241.6 358.9L241.9 359.1L242.2 358.6L242.5 359.9L242.8 358.6L243.1 360.0L243.4 357.2L243.7 359.5L244.0 356.8L244.3 360.3L244.6 357.0L244.9 358.5L245.2 356.5L245.5 360.2L245.8 357.6L246.1 360.9L246.4 355.3L246.7 367.0L247.0 348.0L247.3 378.0L247.6 349.7L247.9 364.8L248.2 356.1L248.5 359.3L248.8 357.6L249.1 359.7L249.4 356.7L249.7 359.4L250.0 356.9L250.3 358.9L250.6 356.7L250.9 360.5L251.2 356.6L251.5 361.2L251.8 351.0L252.1 359.4L252.4 357.6L252.7 360.3L253.0 356.2L253.3 359.3L253.6 358.0L253.9 358.7L254.2 357.6L254.5 359.2L254.8 358.5L255.1 358.8L255.4 356.5L255.7 359.9L256.0 354.7L256.3 360.4L256.6 349.1L256.9 360.5L257.2 357.1L257.5 362.5L257.8 359.2L258.1 359.2L258.4 358.8L258.7 358.9L259.0 359.8L259.3 359.2L259.6 358.7L259.9 359.0L260.2 359.1L260.5 359.7L260.8 358.3L261.1 358.6L261.4 359.0L261.7 360.8L262.0 359.8L262.3 359.7L262.6 358.9L262.9 362.2L263.2 358.8L263.5 364.4L263.8 358.7L264.1 361.9L264.4 356.2L264.7 362.5L265.0 357.8L265.3 361.5L265.6 358.9L265.9 359.7L266.2 357.5L266.5 359.3L266.8 358.3L267.1 359.1L267.4 358.8L267.7 358.8L268.0 357.1L268.3 360.1L268.6 350.1L268.9 362.6L269.2 355.4L269.5 363.5L269.8 354.8L270.1 363.6L270.4 350.9L270.7 363.0L271.0 333.6L271.3 368.7L271.6 390.6L271.9 300.5L272.2 416.5L272.5 324.0L272.8 381.9L273.1 361.3L273.4 350.3L273.7 361.8L274.0 347.2L274.3 366.5L274.6 352.8L274.9 362.3L275.2 349.9L275.5 365.8L275.8 351.7L276.1 359.0L276.4 355.9L276.7 360.2L277.0 358.1L277.3 359.7L277.6 357.8L277.9 360.5L278.2 357.4L278.5 360.7L278.8 355.8L279.1 359.5L279.4 358.3L279.7 359.1L280.0 355.7L280.3 358.9L280.6 359.9L280.9 359.0L281.2 358.7L281.5 359.5L281.8 359.5L282.1 358.8L282.4 358.1L282.7 360.4L283.0 358.5L283.3 363.0L283.6 359.7L283.9 361.9L284.2 357.7L284.5 359.5L284.8 359.9L285.1 359.4L285.4 357.8L285.7 359.3L286.0 358.8L286.3 360.0L286.6 359.5L286.9 358.9L287.2 359.0L287.5 359.3L287.8 358.5L288.1 361.0L288.4 358.1L288.7 358.0L289.0 358.0L289.3 359.4L289.6 358.3L289.9 360.8L290.2 355.4L290.5 365.3L290.8 366.6L291.1 349.0L291.4 377.9L291.7 350.3L292.0 364.4L292.3 363.4L292.6 355.3L292.9 366.5L293.2 352.4L293.5 361.1L293.8 356.8L294.1 359.4L294.4 357.7L294.7 360.9L295.0 356.0L295.3 360.8L295.6 356.5L295.9 359.6L296.2 368.4L296.5 339.0L296.8 374.0L297.1 348.3L297.4 365.7L297.7 364.5L298.0 353.9L298.3 357.7L298.6 356.2L298.9 358.5L299.2 357.8L299.5 358.3L299.8 358.4L300.1 358.3L300.4 358.7L300.7 358.8L301.0 357.7L301.3 360.9L301.6 358.9L301.9 360.2L302.2 356.6L302.5 359.8L302.8 359.0L303.1 362.7L303.4 355.2L303.7 363.4L304.0 357.2L304.3 363.5L304.6 358.6L304.9 358.3L305.2 357.3L305.5 359.9L305.8 359.1L306.1 359.3L306.4 358.1L306.7 359.0L307.0 359.5L307.3 359.7L307.6 359.0L307.9 362.0L308.2 355.0L308.5 359.3L308.8 356.3L309.1 362.6L309.4 356.9L309.7 361.4L310.0 358.8L310.3 359.1L310.6 359.7L310.9 358.9L311.2 358.8L311.5 360.6L311.8 359.2L312.1 358.9L312.4 358.6L312.7 359.2L313.0 359.0L313.3 360.2L313.6 356.0L313.9 359.8L314.2 356.0L314.5 359.5L314.8 358.2L315.1 363.8L315.4 353.6L315.7 363.7L316.0 370.0L316.3 341.0L316.6 382.0L316.9 346.4L317.2 366.9L317.5 362.3L317.8 357.3L318.1 358.8L318.4 356.9L318.7 359.5L319.0 357.6L319.3 359.0L319.6 357.4L319.9 358.6L320.2 357.4L320.5 357.9L320.8 358.1L321.1 359.2" stroke="#0000ff" stroke-width="1" fill="none" stroke-linejoin="round" clip-path="url(#ca3)"/><clipPath id="ca4"><rect x="50.9" y="444.6" width="269.6" height="117.4"/></clipPath><path d="M52.2 542.8L52.5 538.9L52.7 535.4L53.0 532.5L53.2 530.8L53.5 529.9L53.7 529.3L54.0 528.9L54.2 528.4L54.5 527.9L54.7 527.1L55.0 525.6L55.2 523.0L55.5 519.8L55.7 516.3L56.0 512.6L56.2 509.2L56.5 506.3L56.7 504.2L57.0 503.2L57.2 503.6L57.5 505.1L57.7 507.6L58.0 510.6L58.2 514.1L58.5 517.7L58.7 521.2L59.0 524.4L59.2 526.9L59.5 528.7L59.7 529.3L60.0 529.1L60.2 528.7L60.5 528.0L60.7 527.1L61.0 526.0L61.2 524.8L61.5 523.5L61.7 522.2L62.0 520.9L62.2 519.6L62.5 518.4L62.7 517.3L63.0 516.4L63.2 515.7L63.5 515.3L63.7 515.1L64.0 515.3L64.2 515.8L64.5 516.5L64.7 517.5L65.0 518.6L65.2 519.8L65.5 521.1L65.7 522.4L66.0 523.6L66.2 524.7L66.5 525.6L66.7 526.3L67.0 526.9L67.2 527.5L67.5 528.1L67.7 528.6L68.0 529.1L68.2 529.5L68.5 529.9L68.7 530.0L69.0 530.0L69.2 528.4L69.5 524.7L69.7 519.5L70.0 513.3L70.2 506.5L70.5 499.6L70.7 493.1L71.0 487.4L71.2 483.1L71.5 480.5L71.7 480.3L72.0 482.9L72.2 487.7L72.5 494.1L72.7 501.5L73.0 509.3L73.2 516.9L73.5 523.5L73.7 528.7L74.0 531.8L74.2 532.3L74.5 532.0L74.7 531.3L75.0 530.4L75.2 529.2L75.5 527.8L75.7 526.3L76.0 524.6L76.2 522.8L76.5 521.0L76.7 519.1L77.0 517.3L77.2 515.5L77.5 513.7L77.7 512.2L78.0 510.7L78.2 509.5L78.5 508.6L78.7 507.9L79.0 507.5L79.2 507.5L79.5 508.8L79.7 511.2L80.0 514.5L80.2 518.2L80.5 522.2L80.7 526.0L81.0 529.4L81.2 532.0L81.5 533.5L81.7 533.8L82.0 533.5L82.2 532.9L82.5 532.1L82.7 531.0L83.0 529.8L83.2 528.4L83.5 526.9L83.7 525.4L84.0 523.8L84.2 522.3L84.5 520.8L84.7 519.4L85.0 518.1L85.2 517.0L85.5 516.2L85.7 515.5L86.0 515.2L86.2 515.1L86.5 515.3L86.7 515.7L87.0 516.3L87.2 517.0L87.5 517.8L87.7 518.8L88.0 519.8L88.2 520.8L88.5 521.9L88.7 522.9L89.0 523.9L89.2 524.9L89.5 525.7L89.7 526.5L90.0 527.1L90.2 527.5L90.5 527.8L90.7 527.7L91.0 526.7L91.2 524.9L91.5 522.3L91.7 519.3L92.0 516.0L92.2 512.6L92.5 509.3L92.7 506.3L93.0 503.9L93.2 502.2L93.5 501.4L93.7 501.6L94.0 502.5L94.2 503.9L94.5 505.8L94.7 508.0L95.0 510.5L95.2 513.2L95.5 515.9L95.7 518.6L96.0 521.2L96.2 523.6L96.5 525.7L96.7 527.4L97.0 528.6L97.2 529.2L97.5 529.1L97.7 528.3L98.0 526.7L98.2 524.5L98.5 521.9L98.7 519.0L99.0 515.8L99.2 512.6L99.5 509.4L99.7 506.3L100.0 503.5L100.2 501.1L100.5 499.1L100.7 497.8L101.0 497.2L101.2 497.4L101.5 498.1L101.7 499.4L102.0 501.1L102.2 503.1L102.5 505.4L102.7 508.0L103.0 510.7L103.2 513.4L103.5 516.2L103.7 519.0L104.0 521.6L104.2 524.0L104.5 526.2L104.7 528.0L105.0 529.4L105.2 530.4L105.5 530.8L105.7 530.2L106.0 528.0L106.2 524.6L106.5 520.2L106.7 515.2L107.0 510.1L107.2 505.1L107.5 500.5L107.7 496.9L108.0 494.4L108.2 493.5L108.5 494.4L108.7 496.9L109.0 500.6L109.2 505.0L109.5 509.9L109.7 514.8L110.0 519.2L110.2 522.9L110.5 525.4L110.7 526.3L111.0 526.0L111.2 525.2L111.5 524.1L111.7 522.9L112.0 521.7L112.2 520.8L112.5 520.4L112.7 520.6L113.0 521.4L113.2 522.7L113.5 524.1L113.7 525.5L114.0 526.8L114.2 527.6L114.5 527.8L114.7 527.8L115.0 527.7L115.2 527.7L115.5 527.6L115.7 527.5L116.0 527.3L116.2 527.2L116.5 527.0L116.7 526.8L117.0 526.5L117.2 526.3L117.5 526.0L117.7 525.7L118.0 525.4L118.2 525.1L118.5 524.7L118.7 524.3L119.0 523.9L119.2 523.5L119.5 523.1L119.7 522.6L120.0 521.7L120.2 520.2L120.5 518.1L120.7 515.7L121.0 512.9L121.2 510.0L121.5 507.0L121.7 504.2L122.0 501.7L122.2 499.5L122.5 497.8L122.7 496.8L123.0 496.5L123.2 497.6L123.5 499.9L123.7 503.1L124.0 507.0L124.2 511.3L124.5 515.6L124.7 519.7L125.0 523.2L125.2 525.9L125.5 527.5L125.7 527.7L126.0 527.1L126.2 525.8L126.5 524.0L126.7 521.7L127.0 519.0L127.2 515.9L127.5 512.6L127.7 509.1L128.0 505.4L128.2 501.7L128.4 498.1L128.7 494.5L128.9 491.1L129.2 488.0L129.4 485.2L129.7 482.8L129.9 480.9L130.2 479.5L130.4 478.7L130.7 478.7L130.9 480.2L131.2 483.1L131.4 487.2L131.7 492.0L131.9 497.5L132.2 503.2L132.4 508.9L132.7 514.4L132.9 519.2L133.2 523.3L133.4 526.2L133.7 527.7L133.9 527.7L134.2 526.9L134.4 525.4L134.7 523.5L134.9 521.1L135.2 518.4L135.4 515.5L135.7 512.5L135.9 509.5L136.2 506.6L136.4 503.9L136.7 501.5L136.9 499.6L137.2 498.1L137.4 497.3L137.7 497.2L137.9 497.7L138.2 498.6L138.4 499.9L138.7 501.5L138.9 503.4L139.2 505.5L139.4 507.8L139.7 510.1L139.9 512.5L140.2 514.8L140.4 517.0L140.7 519.1L140.9 520.9L141.2 522.5L141.4 523.7L141.7 524.5L141.9 524.9L142.2 524.4L142.4 522.5L142.7 519.4L142.9 515.4L143.2 510.7L143.4 505.6L143.7 500.3L143.9 495.0L144.2 490.0L144.4 485.6L144.7 481.9L144.9 479.3L145.2 477.9L145.4 478.2L145.7 480.3L145.9 484.0L146.2 488.9L146.4 494.6L146.7 500.8L146.9 507.0L147.2 513.0L147.4 518.2L147.7 522.5L147.9 525.3L148.2 526.3L148.4 526.0L148.7 525.1L148.9 523.7L149.2 521.8L149.4 519.6L149.7 517.2L149.9 514.5L150.2 511.8L150.4 509.0L150.7 506.2L150.9 503.6L151.2 501.2L151.4 499.1L151.7 497.3L151.9 496.0L152.2 495.2L152.4 495.0L152.7 495.5L152.9 496.6L153.2 498.3L153.4 500.4L153.7 502.8L153.9 505.5L154.2 508.2L154.4 511.0L154.7 513.7L154.9 516.3L155.2 518.5L155.4 520.3L155.7 521.7L155.9 522.5L156.2 522.5L156.4 521.9L156.7 520.7L156.9 519.0L157.2 516.9L157.4 514.4L157.7 511.8L157.9 509.0L158.2 506.2L158.4 503.5L158.7 501.0L158.9 498.7L159.2 496.8L159.4 495.4L159.7 494.5L159.9 494.3L160.2 495.0L160.4 496.4L160.7 498.6L160.9 501.3L161.2 504.5L161.4 507.9L161.7 511.5L161.9 515.1L162.2 518.6L162.4 521.9L162.7 524.8L162.9 527.2L163.2 528.9L163.4 529.9L163.7 530.0L163.9 529.1L164.2 527.3L164.4 524.9L164.7 521.8L164.9 518.4L165.2 514.8L165.4 511.1L165.7 507.5L165.9 504.1L166.2 501.2L166.4 498.9L166.7 497.2L166.9 496.5L167.2 496.8L167.4 497.9L167.7 499.6L167.9 501.8L168.2 504.4L168.4 507.1L168.7 509.9L168.9 512.6L169.2 515.0L169.4 516.9L169.7 518.3L169.9 518.9L170.2 518.9L170.4 518.9L170.7 518.8L170.9 518.7L171.2 518.6L171.4 518.4L171.7 518.2L171.9 518.0L172.2 516.7L172.4 512.5L172.7 506.0L172.9 498.3L173.2 490.1L173.4 482.2L173.7 475.5L173.9 470.9L174.2 469.2L174.4 470.9L174.7 475.6L174.9 482.4L175.2 490.7L175.4 499.5L175.7 508.2L175.9 516.0L176.2 522.1L176.4 525.7L176.7 526.3L176.9 525.8L177.2 525.0L177.4 523.7L177.7 522.2L177.9 520.4L178.2 518.3L178.4 516.1L178.7 513.7L178.9 511.3L179.2 508.8L179.4 506.4L179.7 504.1L179.9 501.9L180.2 499.9L180.4 498.1L180.7 496.6L180.9 495.4L181.2 494.6L181.4 494.3L181.7 494.5L181.9 495.3L182.2 496.7L182.4 498.5L182.7 500.6L182.9 503.0L183.2 505.6L183.4 508.2L183.7 510.8L183.9 513.4L184.2 515.7L184.4 517.7L184.7 519.3L184.9 520.5L185.2 521.0L185.4 521.0L185.7 520.2L185.9 518.8L186.2 517.0L186.4 514.8L186.7 512.2L186.9 509.5L187.2 506.7L187.4 504.0L187.7 501.3L187.9 498.9L188.2 496.8L188.4 495.1L188.7 494.0L188.9 493.5L189.2 493.9L189.4 495.4L189.7 497.7L189.9 500.8L190.2 504.3L190.4 508.0L190.7 511.8L190.9 515.5L191.2 518.7L191.4 521.4L191.7 523.2L191.9 524.1L192.2 523.9L192.4 523.2L192.7 522.0L192.9 520.4L193.2 518.4L193.4 516.1L193.7 513.7L193.9 511.1L194.2 508.5L194.4 505.8L194.7 503.2L194.9 500.8L195.2 498.5L195.4 496.5L195.7 494.9L195.9 493.7L196.2 493.0L196.4 492.8L196.7 493.3L196.9 494.5L197.2 496.3L197.4 498.5L197.7 501.1L197.9 504.0L198.2 507.1L198.4 510.3L198.7 513.5L198.9 516.6L199.2 519.5L199.4 522.1L199.7 524.3L199.9 526.1L200.2 527.3L200.4 527.8L200.7 527.2L200.9 524.9L201.2 521.3L201.4 516.5L201.7 511.0L201.9 505.1L202.2 499.0L202.4 493.1L202.7 487.8L202.9 483.2L203.2 479.8L203.4 477.8L203.7 477.6L203.9 478.8L204.2 481.2L204.4 484.4L204.7 488.4L204.9 492.9L205.2 497.6L205.4 502.4L205.7 506.9L205.9 511.1L206.2 514.7L206.4 517.5L206.7 519.2L206.9 519.6L207.2 519.1L207.4 518.0L207.7 516.5L207.9 514.5L208.2 512.3L208.4 509.9L208.7 507.4L208.9 505.0L209.2 502.7L209.4 500.7L209.7 499.0L209.9 497.9L210.2 497.3L210.4 497.4L210.7 498.2L210.9 499.8L211.2 501.8L211.4 504.3L211.7 507.0L211.9 509.9L212.2 512.8L212.4 515.5L212.7 518.0L212.9 520.0L213.2 521.6L213.4 522.4L213.7 522.6L213.9 522.4L214.2 522.1L214.4 521.6L214.7 521.0L214.9 520.2L215.2 519.4L215.4 518.6L215.7 517.8L215.9 516.9L216.2 516.1L216.4 515.3L216.7 514.5L216.9 513.9L217.2 513.4L217.4 513.1L217.7 512.9L217.9 513.0L218.2 513.6L218.4 514.7L218.7 516.0L218.9 517.5L219.2 519.1L219.4 520.6L219.7 521.9L219.9 522.8L220.2 523.4L220.4 523.3L220.7 522.9L220.9 522.1L221.2 521.1L221.4 519.8L221.7 518.2L221.9 516.5L222.2 514.6L222.4 512.6L222.7 510.5L222.9 508.4L223.2 506.3L223.4 504.3L223.7 502.3L223.9 500.5L224.2 498.8L224.4 497.4L224.7 496.2L224.9 495.2L225.2 494.6L225.4 494.3L225.7 494.5L225.9 495.3L226.2 496.7L226.4 498.5L226.7 500.6L226.9 503.1L227.2 505.8L227.4 508.6L227.7 511.4L227.9 514.3L228.2 517.0L228.4 519.5L228.7 521.7L228.9 523.6L229.2 525.0L229.4 526.0L229.7 526.3L229.9 525.2L230.2 522.2L230.4 517.7L230.7 511.9L230.9 505.3L231.2 498.2L231.4 491.0L231.7 484.0L231.9 477.5L232.2 472.0L232.4 467.7L232.7 465.1L232.9 464.4L233.2 466.1L233.4 469.6L233.7 474.7L233.9 481.0L234.2 488.0L234.4 495.4L234.7 502.6L234.9 509.4L235.2 515.3L235.4 519.8L235.7 522.6L235.9 523.4L236.2 522.8L236.4 521.3L236.7 519.2L236.9 516.5L237.2 513.3L237.4 509.7L237.7 505.9L237.9 502.0L238.2 498.0L238.4 494.2L238.7 490.5L238.9 487.2L239.2 484.2L239.4 481.9L239.7 480.1L239.9 479.2L240.2 479.2L240.4 480.8L240.7 484.0L240.9 488.4L241.2 493.7L241.4 499.5L241.7 505.5L241.9 511.3L242.2 516.7L242.4 521.3L242.7 524.8L242.9 526.8L243.2 527.0L243.4 526.2L243.7 524.8L243.9 523.0L244.2 521.1L244.4 519.5L244.7 518.4L244.9 518.1L245.2 518.3L245.4 518.6L245.7 519.0L245.9 519.6L246.2 520.1L246.4 520.5L246.7 520.8L246.9 521.0L247.2 521.0L247.4 520.9L247.7 520.9L247.9 520.7L248.2 520.6L248.4 520.4L248.7 520.2L248.9 520.0L249.2 519.7L249.4 519.4L249.7 519.1L249.9 518.8L250.2 518.5L250.4 518.1L250.7 517.7L250.9 517.3L251.2 516.6L251.4 515.4L251.7 513.8L251.9 512.0L252.2 509.9L252.4 507.6L252.7 505.2L252.9 502.8L253.2 500.4L253.4 498.1L253.7 495.9L253.9 494.0L254.2 492.3L254.4 491.1L254.7 490.2L254.9 489.8L255.2 490.0L255.4 490.9L255.7 492.3L255.9 494.3L256.2 496.6L256.4 499.2L256.7 502.0L256.9 505.0L257.2 508.0L257.4 510.9L257.7 513.7L257.9 516.3L258.2 518.6L258.4 520.4L258.7 521.7L258.9 522.5L259.2 522.5L259.4 521.2L259.7 518.7L259.9 515.1L260.2 510.9L260.4 506.0L260.7 500.9L260.9 495.6L261.2 490.5L261.4 485.7L261.7 481.6L261.9 478.2L262.2 475.9L262.4 474.9L262.7 475.3L262.9 476.9L263.2 479.5L263.4 483.0L263.7 487.1L263.9 491.6L264.2 496.5L264.4 501.5L264.7 506.4L264.9 511.0L265.2 515.3L265.4 518.9L265.7 521.6L265.9 523.5L266.2 524.1L266.4 523.3L266.7 521.2L266.9 517.9L267.2 513.7L267.4 508.8L267.7 503.6L267.9 498.2L268.2 492.9L268.4 488.0L268.7 483.6L268.9 480.1L269.2 477.7L269.4 476.6L269.7 477.1L269.9 479.1L270.2 482.2L270.4 486.3L270.7 491.0L270.9 496.0L271.2 501.1L271.4 506.0L271.7 510.5L271.9 514.1L272.2 516.7L272.4 518.0L272.7 518.3L272.9 518.4L273.2 518.6L273.4 518.7L273.7 518.8L273.9 518.9L274.2 519.0L274.4 519.0L274.7 518.1L274.9 514.6L275.2 509.1L275.4 502.3L275.7 494.7L275.9 487.1L276.2 479.9L276.4 473.8L276.7 469.5L276.9 467.5L277.2 468.1L277.4 470.8L277.7 475.0L277.9 480.5L278.2 486.8L278.4 493.6L278.7 500.5L278.9 507.0L279.2 512.9L279.4 517.7L279.7 521.1L279.9 522.6L280.2 522.3L280.4 521.4L280.7 519.7L280.9 517.5L281.2 514.8L281.4 511.8L281.7 508.5L281.9 505.0L282.2 501.4L282.4 497.7L282.7 494.2L282.9 490.9L283.2 487.9L283.4 485.2L283.7 483.0L283.9 481.3L284.2 480.4L284.4 480.1L284.7 480.6L284.9 481.8L285.2 483.6L285.4 485.9L285.7 488.5L285.9 491.6L286.2 494.8L286.4 498.2L286.7 501.7L286.9 505.2L287.2 508.5L287.4 511.7L287.7 514.6L287.9 517.1L288.2 519.2L288.4 520.7L288.7 521.7L288.9 521.9L289.2 520.8L289.4 518.5L289.7 515.2L289.9 511.0L290.2 506.2L290.4 501.2L290.7 496.0L290.9 491.0L291.2 486.3L291.4 482.3L291.7 479.1L291.9 477.0L292.2 476.3L292.4 477.4L292.7 480.5L292.9 485.0L293.2 490.6L293.4 496.9L293.7 503.3L293.9 509.4L294.2 514.9L294.4 519.2L294.7 521.9L294.9 522.6L295.2 522.3L295.4 521.8L295.7 520.9L295.9 519.8L296.2 518.5L296.4 517.1L296.7 515.6L296.9 514.1L297.2 512.6L297.4 511.1L297.7 509.7L297.9 508.5L298.2 507.5L298.4 506.8L298.7 506.3L298.9 506.2L299.2 506.3L299.4 506.6L299.7 507.0L299.9 507.5L300.2 508.1L300.4 508.7L300.7 509.4L300.9 510.2L301.2 510.9L301.4 511.6L301.7 512.3L301.9 512.9L302.2 513.4L302.4 513.9L302.7 514.2L302.9 514.4L303.2 514.3L303.4 513.1L303.7 510.9L303.9 507.8L304.2 504.2L304.4 500.1L304.7 495.9L304.9 491.8L305.2 488.1L305.4 484.8L305.7 482.4L305.9 481.0L306.2 480.9L306.4 482.2L306.7 484.6L306.9 487.9L307.2 492.0L307.4 496.4L307.7 500.9L307.9 505.4L308.2 509.5L308.4 513.0L308.7 515.6L308.9 517.1L309.2 517.4L309.4 516.9L309.7 515.9L309.9 514.4L310.2 512.6L310.4 510.5L310.7 508.2L310.9 505.6L311.2 502.9L311.4 500.2L311.7 497.5L311.9 494.8L312.2 492.2L312.4 489.9L312.7 487.8L312.9 486.0L313.2 484.5L313.4 483.5L313.7 483.0L313.9 483.2L314.2 484.7L314.4 487.1L314.7 490.3L314.9 494.1L315.2 498.1L315.4 502.1L315.7 505.9L315.9 509.3L316.2 511.9L316.4 513.5L316.7 514.3L316.9 515.1L317.2 515.8L317.4 516.4L317.7 516.9L317.9 517.4L318.2 517.7L318.4 518.0L318.7 518.1L318.9 516.4L319.2 507.3L319.4 493.1L319.7 476.8" stroke="#ff0000" stroke-width="1" fill="none" stroke-linejoin="round" clip-path="url(#ca4)"/><clipPath id="ca5"><rect x="44.6" y="593.5" width="269.9" height="117.4"/></clipPath><path d="M45.6 637.5L46.0 634.9L46.4 626.1L46.8 637.7L47.2 635.4L47.6 629.8L48.0 634.6L48.4 642.9L48.8 628.2L49.2 649.6L49.6 657.0L50.0 663.0L50.4 647.4L50.8 644.7L51.2 643.4L51.6 642.1L52.0 637.4L52.4 638.9L52.8 631.7L53.2 640.5L53.6 627.6L54.0 642.2L54.4 624.8L54.8 640.2L55.2 637.3L55.6 637.6L56.0 627.5L56.4 641.3L56.8 652.9L57.2 673.9L57.6 657.4L58.0 652.2L58.4 644.7L58.8 640.1L59.2 632.7L59.6 637.7L60.0 625.1L60.4 647.8L60.8 630.4L61.2 643.7L61.6 636.7L62.0 643.2L62.4 620.2L62.8 639.4L63.2 636.2L63.6 637.8L64.0 657.2L64.4 686.0L64.8 680.4L65.2 673.7L65.6 651.8L66.0 641.1L66.4 634.1L66.8 640.1L67.2 636.1L67.6 644.2L68.0 639.6L68.4 632.7L68.8 645.9L69.2 646.0L69.6 624.7L70.0 641.3L70.4 636.1L70.8 643.0L71.2 639.2L71.6 638.2L72.0 630.3L72.4 649.1L72.8 664.1L73.2 687.8L73.6 659.1L74.0 650.0L74.4 646.1L74.8 642.3L75.2 640.5L75.6 642.8L76.0 638.4L76.4 644.7L76.8 636.6L77.2 641.4L77.6 644.3L78.0 652.6L78.4 645.2L78.8 655.1L79.2 654.6L79.6 658.4L80.0 648.8L80.4 644.6L80.8 643.0L81.2 646.1L81.6 641.8L82.0 647.2L82.4 640.3L82.8 654.2L83.2 646.5L83.6 643.7L84.0 640.8L84.4 643.0L84.8 635.3L85.2 634.7L85.6 623.3L86.0 651.7L86.4 677.0L86.8 663.9L87.2 637.4L87.6 644.3L88.0 637.5L88.4 646.9L88.8 637.0L89.2 630.0L89.6 640.7L90.0 643.8L90.4 638.7L90.8 645.8L91.2 632.8L91.6 643.2L92.0 625.3L92.4 643.1L92.8 629.4L93.2 638.1L93.6 634.8L94.0 669.4L94.4 659.4L94.8 664.8L95.2 645.5L95.6 644.4L96.0 633.8L96.4 642.2L96.8 637.5L97.2 650.0L97.6 641.1L98.0 628.8L98.4 622.0L98.8 631.2L99.2 639.9L99.6 641.7L100.0 641.2L100.4 640.8L100.8 649.0L101.2 676.5L101.6 694.2L102.0 660.5L102.4 650.6L102.8 650.4L103.2 625.6L103.6 625.7L104.0 634.4L104.4 641.1L104.8 639.0L105.2 646.8L105.6 641.2L106.0 642.6L106.4 641.4L106.8 637.4L107.2 636.6L107.6 642.5L108.0 636.4L108.4 646.5L108.8 645.6L109.2 647.1L109.6 638.1L110.0 626.0L110.4 635.5L110.8 631.3L111.2 635.4L111.6 641.5L112.0 636.3L112.4 645.4L112.8 639.0L113.2 639.6L113.6 635.1L114.0 637.9L114.4 640.0L114.8 643.0L115.2 634.0L115.6 635.3L116.0 650.0L116.4 672.3L116.8 644.8L117.2 649.3L117.6 623.5L118.0 638.2L118.4 635.7L118.8 646.6L119.2 639.3L119.6 642.0L120.0 636.6L120.4 642.6L120.8 632.0L121.2 639.0L121.6 631.5L122.0 635.3L122.4 631.2L122.8 640.2L123.2 633.7L123.6 629.1L124.0 641.6L124.4 677.2L124.8 705.1L125.2 678.9L125.6 654.2L126.0 646.0L126.4 637.0L126.8 643.6L127.2 645.2L127.6 651.5L128.0 639.6L128.4 643.0L128.8 633.0L129.2 642.7L129.6 646.5L130.0 681.7L130.4 652.4L130.8 649.8L131.2 626.3L131.6 629.2L132.0 631.4L132.4 635.0L132.8 626.5L133.2 634.0L133.6 632.7L134.0 638.8L134.4 635.4L134.8 643.1L135.2 632.4L135.6 638.0L136.0 635.5L136.4 638.0L136.8 637.1L137.2 644.3L137.6 630.9L138.0 652.3L138.4 675.3L138.8 685.1L139.2 651.3L139.6 640.7L140.0 638.0L140.4 635.7L140.8 636.9L141.2 631.5L141.6 621.4L142.0 636.5L142.4 638.4L142.8 642.9L143.2 638.9L143.6 646.5L144.0 637.2L144.4 640.3L144.8 640.9L145.2 654.4L145.6 661.1L146.0 669.4L146.4 652.9L146.8 644.2L147.2 618.4L147.6 634.5L148.0 632.1L148.4 634.8L148.8 635.3L149.2 640.9L149.6 638.7L150.0 637.8L150.4 633.1L150.8 638.3L151.2 635.9L151.6 648.1L152.0 664.5L152.4 681.3L152.8 660.0L153.2 646.0L153.6 643.2L154.0 635.1L154.4 637.5L154.8 640.9L155.2 633.3L155.6 624.4L156.0 636.8L156.4 639.6L156.8 632.7L157.2 642.2L157.6 638.1L158.0 641.5L158.4 640.3L158.8 638.9L159.2 655.3L159.6 674.1L160.0 679.6L160.4 663.8L160.8 642.5L161.2 649.2L161.6 636.7L162.0 646.3L162.4 639.3L162.8 632.7L163.2 643.1L163.6 648.1L164.0 639.1L164.4 641.7L164.8 640.4L165.2 644.0L165.6 642.8L166.0 644.8L166.4 636.9L166.8 666.7L167.2 682.6L167.6 710.0L168.0 677.2L168.4 656.7L168.8 649.2L169.2 640.7L169.6 643.6L170.0 629.0L170.4 636.8L170.8 645.1L171.2 641.8L171.6 645.5L172.0 640.1L172.4 645.4L172.8 642.8L173.2 649.2L173.6 636.1L174.0 649.2L174.4 652.8L174.8 677.9L175.2 648.4L175.6 646.3L176.0 649.5L176.4 643.3L176.8 646.1L177.2 644.1L177.6 641.6L178.0 644.5L178.4 641.9L178.8 652.7L179.2 644.0L179.6 649.5L180.0 641.7L180.4 647.5L180.8 640.7L181.2 658.2L181.6 663.3L182.0 678.4L182.4 658.4L182.8 651.9L183.2 643.6L183.6 639.5L184.0 639.8L184.4 644.3L184.8 638.3L185.2 646.2L185.6 642.3L186.0 644.9L186.4 643.2L186.8 642.1L187.2 625.7L187.6 637.1L188.0 643.0L188.4 646.8L188.8 638.1L189.2 653.5L189.6 658.9L190.0 670.4L190.4 644.9L190.8 652.3L191.2 646.6L191.6 632.5L192.0 625.9L192.4 646.4L192.8 638.4L193.2 630.5L193.6 639.5L194.0 642.5L194.4 636.3L194.8 644.5L195.2 639.4L195.6 637.1L196.0 637.9L196.4 665.4L196.8 694.0L197.2 700.4L197.6 660.8L198.0 647.9L198.4 647.2L198.8 644.3L199.2 642.8L199.6 638.5L200.0 635.7L200.4 648.0L200.8 644.1L201.2 638.4L201.6 644.6L202.0 650.4L202.4 644.2L202.8 639.0L203.2 652.9L203.6 675.9L204.0 686.7L204.4 676.5L204.8 651.9L205.2 644.3L205.6 632.2L206.0 642.9L206.4 632.1L206.8 642.1L207.2 638.5L207.6 646.6L208.0 642.4L208.4 646.1L208.8 627.2L209.2 645.3L209.6 640.5L210.0 644.0L210.4 648.2L210.8 656.6L211.2 649.8L211.6 640.5L212.0 622.8L212.4 641.9L212.8 634.4L213.2 642.7L213.6 620.2L214.0 626.2L214.4 627.4L214.8 640.7L215.2 639.6L215.6 646.0L216.0 636.1L216.4 642.4L216.8 625.6L217.2 629.9L217.6 638.0L218.0 634.3L218.4 642.5L218.8 680.6L219.2 675.0L219.6 660.3L220.0 626.8L220.4 651.9L220.8 631.0L221.2 645.6L221.6 638.4L222.0 641.5L222.4 631.6L222.8 641.7L223.2 636.8L223.6 625.5L224.0 636.1L224.4 647.7L224.8 643.4L225.2 646.9L225.6 638.9L226.0 666.5L226.4 689.0L226.8 695.4L227.2 662.2L227.6 651.4L228.0 640.0L228.4 640.9L228.8 636.3L229.2 642.4L229.6 643.4L230.0 650.2L230.4 643.3L230.8 641.6L231.2 636.4L231.6 636.5L232.0 630.3L232.4 659.7L232.8 672.6L233.2 694.2L233.6 658.8L234.0 643.8L234.4 647.7L234.8 635.7L235.2 642.6L235.6 646.4L236.0 639.0L236.4 643.9L236.8 632.4L237.2 633.6L237.6 634.7L238.0 632.0L238.4 638.6L238.8 643.6L239.2 640.6L239.6 645.1L240.0 642.4L240.4 645.9L240.8 643.3L241.2 642.4L241.6 637.7L242.0 642.2L242.4 640.3L242.8 640.8L243.2 637.4L243.6 642.9L244.0 641.8L244.4 637.9L244.8 637.0L245.2 624.1L245.6 634.3L246.0 644.1L246.4 638.9L246.8 641.8L247.2 647.2L247.6 654.6L248.0 686.8L248.4 668.4L248.8 648.0L249.2 648.6L249.6 633.4L250.0 645.1L250.4 638.7L250.8 647.3L251.2 641.1L251.6 645.1L252.0 641.5L252.4 643.2L252.8 634.2L253.2 638.9L253.6 629.4L254.0 638.6L254.4 633.9L254.8 633.8L255.2 643.7L255.6 671.7L256.0 708.3L256.4 677.6L256.8 650.1L257.2 652.7L257.6 635.8L258.0 643.0L258.4 642.2L258.8 644.7L259.2 643.3L259.6 638.4L260.0 640.3L260.4 643.5L260.8 641.6L261.2 644.9L261.6 639.0L262.0 629.8L262.4 649.5L262.8 678.3L263.2 679.8L263.6 657.2L264.0 641.6L264.4 657.0L264.8 626.7L265.2 631.2L265.6 637.8L266.0 654.9L266.4 632.9L266.8 651.3L267.2 637.3L267.6 641.8L268.0 640.7L268.4 644.8L268.8 633.8L269.2 667.9L269.6 668.0L270.0 710.0L270.4 684.6L270.8 664.8L271.2 655.1L271.6 644.2L272.0 647.2L272.4 645.7L272.8 643.3L273.2 645.4L273.6 643.8L274.0 647.9L274.4 633.3L274.8 639.3L275.2 642.1L275.6 648.9L276.0 643.4L276.4 656.0L276.8 637.6L277.2 648.9L277.6 663.9L278.0 703.1L278.4 659.9L278.8 647.7L279.2 636.1L279.6 638.2L280.0 641.3L280.4 644.3L280.8 643.7L281.2 647.5L281.6 644.5L282.0 646.5L282.4 633.2L282.8 638.7L283.2 645.5L283.6 648.0L284.0 648.9L284.4 651.8L284.8 644.4L285.2 670.1L285.6 683.3L286.0 710.0L286.4 685.6L286.8 664.9L287.2 655.6L287.6 645.8L288.0 641.0L288.4 651.6L288.8 639.6L289.2 646.2L289.6 645.8L290.0 654.5L290.4 637.9L290.8 651.9L291.2 651.5L291.6 662.7L292.0 665.8L292.4 660.4L292.8 653.0L293.2 641.2L293.6 641.3L294.0 646.0L294.4 643.3L294.8 649.5L295.2 636.1L295.6 650.3L296.0 644.8L296.4 647.7L296.8 635.1L297.2 638.0L297.6 635.8L298.0 632.7L298.4 660.1L298.8 690.7L299.2 690.6L299.6 667.0L300.0 650.7L300.4 660.1L300.8 643.5L301.2 646.4L301.6 649.5L302.0 647.0L302.4 646.5L302.8 637.1L303.2 646.8L303.6 642.9L304.0 635.8L304.4 641.0L304.8 637.4L305.2 630.2L305.6 635.4L306.0 655.0L306.4 680.0L306.8 670.6L307.2 655.7L307.6 645.7L308.0 646.8L308.4 631.8L308.8 641.4L309.2 643.7L309.6 641.3L310.0 636.3L310.4 636.3L310.8 629.3L311.2 631.2L311.6 640.9L312.0 662.9L312.4 642.1L312.8 639.1L313.2 651.7" stroke="#0000ff" stroke-width="1" fill="none" stroke-linejoin="round" clip-path="url(#ca5)"/><clipPath id="cb1"><rect x="397.6" y="1.5" width="280.3" height="121.8"/></clipPath><path d="M399.2 42.9L399.5 85.6L399.7 36.6L400.0 79.8L400.3 51.5L400.6 74.9L401.0 50.3L401.5 66.9L401.9 46.8L402.4 66.4L402.8 58.1L403.3 55.5L404.0 60.8L403.0 62.1L404.2 63.4L403.2 64.9L404.4 66.3L403.4 67.8L404.6 69.3L403.6 70.9L404.8 72.4L403.8 74.0L405.0 75.6L404.0 77.2L405.2 78.8L404.2 80.5L405.4 82.1L404.4 83.8L405.6 85.4L404.6 87.1L405.8 88.8L404.8 90.5L406.0 92.2L405.0 93.9L406.2 95.6L405.2 97.4L406.4 99.1L405.4 100.8L406.6 102.6L405.6 104.3L406.8 106.1L405.8 107.9L407.0 109.6L406.0 111.4L407.2 113.2L406.2 115.0L407.4 116.8L406.4 118.6L407.6 103.0L407.4 75.1L408.3 43.0L408.4 3.0L408.6 81.1L408.9 37.3L409.2 79.5L409.5 50.7L409.9 72.4L410.3 56.2L410.7 73.5L411.2 54.6L411.7 66.4L412.2 53.3L412.7 61.0L413.3 60.8L412.3 62.1L413.5 63.6L412.5 65.0L413.7 66.6L412.7 68.1L413.9 69.7L413.0 71.3L414.2 72.9L413.2 74.5L414.4 76.1L413.4 77.8L414.6 79.5L413.6 81.2L414.8 82.9L413.8 84.6L415.0 86.3L414.0 88.0L415.2 89.8L414.2 91.5L415.4 93.3L414.4 95.0L415.6 96.8L414.7 98.6L415.9 100.4L414.9 102.2L416.1 104.0L415.1 105.8L416.3 107.6L415.3 109.4L416.5 111.3L415.5 113.1L416.7 114.9L415.7 116.8L416.9 118.6L415.9 120.5L417.2 100.0L416.9 76.8L417.9 47.4L417.9 3.5L418.2 77.9L418.4 42.1L418.7 74.4L419.0 49.2L419.3 74.5L419.7 53.2L420.1 70.2L420.6 53.1L421.0 61.6L421.5 59.7L421.9 60.4L422.6 60.7L421.6 62.0L422.8 63.4L421.8 64.7L423.0 66.2L422.0 67.6L423.2 69.1L422.2 70.6L423.4 72.1L422.4 73.7L423.6 75.2L422.6 76.8L423.8 78.4L422.8 80.0L424.0 81.6L423.0 83.2L424.2 84.8L423.2 86.5L424.4 88.1L423.4 89.8L424.6 91.4L423.6 93.1L424.8 94.8L423.8 96.5L425.0 98.2L424.0 99.9L425.2 101.6L424.2 103.3L425.4 105.0L424.4 106.7L425.6 108.5L424.6 110.2L425.8 112.0L424.7 113.7L425.9 115.5L424.9 117.2L426.2 106.8L425.9 79.6L426.8 47.3L426.8 2.5L427.1 76.7L427.4 48.0L427.7 73.4L428.0 46.1L428.4 79.1L428.7 50.8L429.2 63.5L429.7 51.3L430.2 66.0L430.6 58.4L431.1 57.5L431.8 60.7L430.8 62.0L432.0 63.3L431.0 64.7L432.2 66.1L431.2 67.5L432.4 69.0L431.4 70.5L432.6 72.0L431.6 73.5L432.8 75.0L431.8 76.6L433.0 78.2L432.0 79.7L433.2 81.3L432.2 82.9L433.5 84.5L432.5 86.1L433.7 87.8L432.7 89.4L433.9 91.0L432.9 92.7L434.1 94.4L433.1 96.0L434.3 97.7L433.3 99.4L434.5 101.1L433.5 102.7L434.7 104.4L433.7 106.1L434.9 107.9L433.9 109.6L435.1 111.3L434.1 113.0L435.4 114.7L434.4 116.5L435.6 98.7L435.4 76.3L436.3 42.9L436.3 0.1L436.6 76.9L436.9 40.8L437.2 82.0L437.5 44.8L437.9 71.3L438.2 49.9L438.7 70.6L439.2 58.9L439.7 63.4L440.1 50.6L440.6 57.2L441.3 60.7L440.3 62.0L441.5 63.4L440.5 64.8L441.7 66.2L440.7 67.7L441.9 69.1L440.9 70.6L442.1 72.2L441.1 73.7L442.3 75.3L441.3 76.9L442.5 78.4L441.5 80.0L442.7 81.6L441.7 83.3L442.9 84.9L441.9 86.5L443.2 88.2L442.2 89.9L443.4 91.5L442.4 93.2L443.6 94.9L442.6 96.6L443.8 98.3L442.8 100.0L444.0 101.7L443.0 103.4L444.2 105.1L443.2 106.8L444.4 108.6L443.4 110.3L444.6 112.1L443.6 113.8L444.8 115.6L443.8 117.3L445.1 103.7L444.9 78.9L445.8 48.5L445.8 0.1L446.1 78.9L446.4 44.7L446.6 78.3L446.9 46.5L447.2 72.3L447.6 53.8L448.0 68.7L448.5 51.2L448.9 64.2L449.4 53.4L449.8 62.7L450.5 60.8L449.5 62.1L450.7 63.5L449.7 64.9L450.9 66.3L449.9 67.8L451.1 69.4L450.1 70.9L451.3 72.5L450.3 74.1L451.5 75.6L450.5 77.3L451.7 78.9L450.7 80.5L451.9 82.2L450.9 83.8L452.1 85.5L451.1 87.2L452.3 88.9L451.3 90.6L452.5 92.3L451.5 94.0L452.7 95.7L451.7 97.4L452.9 99.2L451.9 100.9L453.1 102.7L452.1 104.4L453.3 106.2L452.2 108.0L453.4 109.7L452.4 111.5L453.6 113.3L452.6 115.1L453.8 116.9L452.8 118.7L454.0 101.3L453.8 75.9L454.7 41.1L454.7 0.1L455.0 79.9L455.3 46.0L455.6 80.3L455.9 47.1L456.3 73.6L456.6 54.7L457.1 67.4L457.6 57.0L458.1 69.8L458.6 57.7L459.0 63.3L459.7 60.7L458.7 62.0L459.9 63.3L458.9 64.7L460.1 66.1L459.1 67.5L460.3 69.0L459.4 70.5L460.6 72.0L459.6 73.5L460.8 75.0L459.8 76.5L461.0 78.1L460.0 79.7L461.2 81.3L460.2 82.8L461.4 84.5L460.4 86.1L461.6 87.7L460.6 89.3L461.8 91.0L460.8 92.6L462.1 94.3L461.1 95.9L462.3 97.6L461.3 99.3L462.5 100.9L461.5 102.6L462.7 104.3L461.7 106.0L462.9 107.7L461.9 109.4L463.1 111.1L462.1 112.9L463.3 114.6L462.3 116.3L463.6 101.9L463.4 79.6L464.3 44.3L464.3 6.0L464.6 81.9L464.9 41.0L465.1 77.5L465.4 47.0L465.7 77.1L466.1 52.6L466.5 69.7L467.0 56.0L467.4 65.8L467.9 60.2L468.3 59.5L469.0 60.7L468.0 62.0L469.2 63.4L468.2 64.8L469.4 66.3L468.4 67.7L469.6 69.3L468.6 70.8L469.8 72.3L468.8 73.9L470.0 75.5L469.0 77.1L470.2 78.7L469.2 80.3L470.4 81.9L469.3 83.5L470.5 85.2L469.5 86.9L470.7 88.5L469.7 90.2L470.9 91.9L469.9 93.6L471.1 95.3L470.1 97.0L471.3 98.7L470.3 100.4L471.5 102.2L470.5 103.9L471.7 105.7L470.7 107.4L471.9 109.2L470.9 110.9L472.1 112.7L471.1 114.5L472.3 116.2L471.3 118.0L472.5 101.9L472.3 73.6L473.2 49.3L473.2 0.4L473.5 80.4L473.8 44.0L474.1 80.3L474.5 45.8L474.9 73.9L475.3 52.7L475.8 68.8L476.4 50.5L476.9 64.3L477.4 57.2L477.9 58.3L478.6 60.8L477.6 62.2L478.8 63.6L477.9 65.1L479.1 66.7L478.1 68.2L479.3 69.8L478.3 71.5L479.5 73.1L478.6 74.8L479.8 76.4L478.8 78.1L480.0 79.8L479.0 81.5L480.2 83.3L479.3 85.0L480.5 86.8L479.5 88.5L480.7 90.3L479.7 92.1L480.9 93.9L480.0 95.7L481.2 97.5L480.2 99.3L481.4 101.1L480.4 102.9L481.6 104.8L480.7 106.6L481.9 108.5L480.9 110.3L482.1 112.2L481.1 114.0L482.3 115.9L481.4 117.8L482.6 119.7L481.6 121.6L482.9 99.3L482.7 80.1L483.7 44.5L483.7 0.3L484.0 78.3L484.2 43.0L484.5 78.9L484.8 56.0L485.1 71.5L485.4 48.7L485.9 65.1L486.3 48.7L486.7 62.9L487.2 58.9L487.6 54.7L488.2 60.7L487.2 62.0L488.4 63.4L487.4 64.8L488.6 66.2L487.6 67.7L488.8 69.2L487.8 70.7L489.0 72.3L488.0 73.8L489.2 75.4L488.2 77.0L489.4 78.6L488.4 80.2L489.6 81.8L488.6 83.4L489.8 85.1L488.7 86.7L489.9 88.4L488.9 90.1L490.1 91.8L489.1 93.4L490.3 95.1L489.3 96.8L490.5 98.5L489.5 100.3L490.7 102.0L489.7 103.7L490.9 105.5L489.9 107.2L491.1 108.9L490.1 110.7L491.3 112.5L490.3 114.2L491.5 116.0L490.5 117.8L491.7 103.6L491.4 82.6L492.3 44.1L492.3 8.0L492.6 75.1L492.9 38.9L493.1 72.9L493.4 47.7L493.8 74.0L494.2 54.0L494.7 69.3L495.1 54.1L495.6 67.5L496.1 61.7L496.5 58.4L497.2 60.8L496.2 62.2L497.4 63.6L496.4 65.1L497.6 66.7L496.6 68.3L497.8 69.8L496.8 71.5L498.0 73.1L497.0 74.8L498.2 76.4L497.2 78.1L498.4 79.8L497.4 81.6L498.6 83.3L497.7 85.0L498.9 86.8L497.9 88.5L499.1 90.3L498.1 92.1L499.3 93.9L498.3 95.7L499.5 97.5L498.5 99.3L499.7 101.1L498.7 103.0L499.9 104.8L498.9 106.6L500.1 108.5L499.1 110.3L500.3 112.2L499.3 114.1L500.5 116.0L499.5 117.8L500.7 119.7L499.7 121.6L501.0 104.6L500.7 86.1L501.7 48.6L501.7 0.1L502.0 78.3L502.3 42.2L502.5 75.9L502.8 47.0L503.2 72.1L503.6 56.5L504.0 70.7L504.5 55.0L504.9 69.4L505.4 54.8L505.9 56.4L506.5 60.8L505.5 62.1L506.7 63.5L505.7 64.9L506.9 66.4L505.9 67.9L507.1 69.4L506.1 70.9L507.3 72.5L506.3 74.1L507.6 75.7L506.6 77.3L507.8 78.9L506.8 80.5L508.0 82.2L507.0 83.9L508.2 85.5L507.2 87.2L508.4 88.9L507.4 90.6L508.6 92.3L507.6 94.0L508.8 95.7L507.8 97.5L509.0 99.2L508.0 101.0L509.2 102.7L508.2 104.5L509.4 106.2L508.4 108.0L509.6 109.8L508.6 111.6L509.8 113.4L508.8 115.2L510.0 117.0L509.0 118.8L510.2 97.6L510.0 80.9L510.9 44.3L511.0 6.6L511.2 81.2L511.5 35.7L511.8 80.0L512.1 47.5L512.5 71.1L512.9 51.3L513.3 72.3L513.8 55.1L514.3 69.0L514.7 57.7L515.2 66.4L515.9 60.7L514.9 62.0L516.1 63.3L515.1 64.7L516.3 66.1L515.3 67.5L516.5 69.0L515.5 70.5L516.7 72.0L515.7 73.5L516.9 75.1L515.9 76.6L517.1 78.2L516.1 79.8L517.3 81.3L516.3 82.9L517.6 84.6L516.6 86.2L517.8 87.8L516.8 89.4L518.0 91.1L517.0 92.7L518.2 94.4L517.2 96.1L518.4 97.7L517.4 99.4L518.6 101.1L517.6 102.8L518.8 104.5L517.8 106.2L519.0 107.9L518.0 109.6L519.2 111.3L518.2 113.1L519.4 114.8L518.4 116.5L519.7 102.4L519.5 79.1L520.4 45.3L520.4 4.6L520.7 79.9L521.0 35.8L521.3 76.5L521.5 47.5L521.9 74.2L522.3 45.3L522.8 67.5L523.2 54.9L523.7 70.9L524.2 63.5L524.7 56.0L525.3 60.7L524.3 62.0L525.5 63.4L524.5 64.8L525.7 66.2L524.7 67.7L525.9 69.2L525.0 70.7L526.2 72.2L525.2 73.8L526.4 75.4L525.4 77.0L526.6 78.5L525.6 80.2L526.8 81.8L525.8 83.4L527.0 85.1L526.0 86.7L527.2 88.4L526.2 90.0L527.4 91.7L526.4 93.4L527.6 95.1L526.6 96.8L527.8 98.5L526.8 100.2L528.0 101.9L527.1 103.7L528.3 105.4L527.3 107.1L528.5 108.9L527.5 110.6L528.7 112.4L527.7 114.1L528.9 115.9L527.9 117.7L529.1 106.3L528.9 78.7L529.8 47.2L529.9 0.1L530.1 77.3L530.4 43.4L530.7 83.4L531.0 48.5L531.3 70.8L531.7 60.2L532.2 71.6L532.6 49.0L533.1 62.1L533.6 55.4L534.0 65.0L534.7 60.7L533.7 62.0L534.9 63.3L533.9 64.7L535.1 66.1L534.1 67.6L535.3 69.1L534.3 70.6L535.5 72.1L534.5 73.6L535.7 75.2L534.7 76.7L535.9 78.3L534.9 79.9L536.1 81.5L535.1 83.1L536.3 84.7L535.3 86.4L536.5 88.0L535.5 89.6L536.7 91.3L535.7 93.0L536.9 94.6L535.9 96.3L537.1 98.0L536.1 99.7L537.3 101.4L536.3 103.1L537.5 104.8L536.5 106.5L537.8 108.2L536.8 110.0L538.0 111.7L537.0 113.4L538.2 115.2L537.2 116.9L538.4 104.2L538.2 79.7L539.1 43.6L539.1 0.1L539.4 78.4L539.6 47.2L539.9 83.9L540.2 44.9L540.5 74.4L540.9 52.0L541.3 71.8L541.8 52.9L542.2 69.3L542.7 57.5L543.1 59.0L543.8 60.8L542.8 62.1L544.0 63.5L543.0 64.9L544.1 66.4L543.1 67.9L544.3 69.4L543.3 70.9L544.5 72.5L543.5 74.1L544.7 75.7L543.7 77.3L544.9 78.9L543.9 80.5L545.1 82.2L544.1 83.9L545.3 85.5L544.3 87.2L545.5 88.9L544.5 90.6L545.7 92.3L544.7 94.0L545.9 95.8L544.9 97.5L546.1 99.2L545.1 101.0L546.3 102.7L545.3 104.5L546.5 106.2L545.5 108.0L546.7 109.8L545.7 111.6L546.9 113.4L545.9 115.2L547.1 117.0L546.1 118.8L547.3 103.8L547.1 83.9L548.0 46.5L548.0 4.5L548.3 79.4L548.6 38.4L548.9 80.4L549.2 44.7L549.6 74.6L550.0 57.9L550.5 69.7L551.0 55.5L551.5 59.9L552.0 56.5L552.5 58.4L553.1 60.8L552.1 62.1L553.3 63.5L552.3 65.0L553.6 66.5L552.6 68.0L553.8 69.6L552.8 71.1L554.0 72.7L553.0 74.3L554.2 76.0L553.2 77.6L554.4 79.3L553.4 80.9L554.7 82.6L553.7 84.3L554.9 86.0L553.9 87.7L555.1 89.4L554.1 91.2L555.3 92.9L554.3 94.6L555.5 96.4L554.5 98.2L555.8 99.9L554.8 101.7L556.0 103.5L555.0 105.3L556.2 107.1L555.2 108.9L556.4 110.7L555.4 112.5L556.6 114.3L555.6 116.2L556.9 118.0L555.9 119.8L557.1 102.2L556.9 76.4L557.9 50.4L557.9 0.1L558.2 80.3L558.5 41.6L558.7 76.0L559.0 41.7L559.4 74.7L559.8 53.3L560.2 66.7L560.7 58.2L561.1 66.0L561.6 61.2L562.1 58.1L562.7 60.7L561.7 62.0L562.9 63.4L561.9 64.8L563.1 66.2L562.1 67.7L563.3 69.2L562.3 70.7L563.5 72.2L562.5 73.8L563.7 75.4L562.8 76.9L564.0 78.5L563.0 80.2L564.2 81.8L563.2 83.4L564.4 85.0L563.4 86.7L564.6 88.4L563.6 90.0L564.8 91.7L563.8 93.4L565.0 95.1L564.0 96.8L565.2 98.5L564.2 100.2L565.4 101.9L564.4 103.6L565.6 105.4L564.6 107.1L565.8 108.9L564.8 110.6L566.0 112.4L565.0 114.1L566.2 115.9L565.2 117.7L566.4 107.1L566.2 83.3L567.1 41.9L567.2 0.7L567.4 77.9L567.7 42.5L568.0 78.8L568.2 44.8L568.6 72.0L568.9 47.2L569.4 71.9L569.8 54.1L570.3 67.6L570.7 48.9L571.2 63.2L571.8 60.8L570.8 62.1L572.0 63.6L571.0 65.0L572.2 66.5L571.2 68.1L572.4 69.7L571.4 71.2L572.6 72.8L571.6 74.5L572.8 76.1L571.8 77.8L573.0 79.4L572.0 81.1L573.2 82.8L572.2 84.5L573.4 86.3L572.4 88.0L573.6 89.7L572.6 91.5L573.8 93.2L572.8 95.0L574.0 96.8L573.0 98.5L574.2 100.3L573.2 102.1L574.4 103.9L573.4 105.7L574.6 107.6L573.6 109.4L574.8 111.2L573.8 113.0L575.0 114.9L574.0 116.7L575.2 118.6L574.2 120.4L575.4 96.6L575.2 79.8L576.1 41.7L576.1 8.9L576.4 76.0L576.7 42.4L576.9 80.6L577.2 47.9L577.6 73.4L578.0 50.0L578.4 70.0L578.9 55.0L579.4 71.2L579.8 58.0L580.3 63.5L581.0 60.8L580.0 62.1L581.2 63.5L580.2 64.9L581.4 66.4L580.4 67.9L581.6 69.4L580.6 71.0L581.8 72.5L580.8 74.1L582.0 75.7L581.0 77.3L582.2 79.0L581.2 80.6L582.4 82.3L581.4 83.9L582.6 85.6L581.6 87.3L582.8 89.0L581.9 90.7L583.1 92.4L582.1 94.1L583.3 95.8L582.3 97.6L583.5 99.3L582.5 101.1L583.7 102.8L582.7 104.6L583.9 106.4L582.9 108.1L584.1 109.9L583.1 111.7L584.3 113.5L583.3 115.3L584.5 117.1L583.5 118.9L584.7 96.9L584.5 73.7L585.4 42.0L585.5 0.8L585.8 80.2L586.1 38.7L586.4 78.3L586.7 52.6L587.1 74.1L587.5 47.0L588.0 71.1L588.5 59.6L589.0 65.2L589.5 55.8L590.0 57.6L590.6 60.8L589.6 62.1L590.8 63.5L589.9 65.0L591.1 66.5L590.1 68.0L591.3 69.6L590.3 71.2L591.5 72.7L590.5 74.4L591.7 76.0L590.7 77.6L591.9 79.3L591.0 81.0L592.2 82.7L591.2 84.4L592.4 86.1L591.4 87.8L592.6 89.5L591.6 91.2L592.8 93.0L591.8 94.7L593.1 96.5L592.1 98.3L593.3 100.0L592.3 101.8L593.5 103.6L592.5 105.4L593.7 107.2L592.7 109.0L593.9 110.8L592.9 112.6L594.2 114.5L593.2 116.3L594.4 118.1L593.4 120.0L594.6 105.2L594.4 75.1L595.4 43.5L595.4 6.3L595.7 75.7L596.0 39.2L596.3 80.1L596.5 43.8L596.9 76.8L597.3 47.7L597.7 69.6L598.2 53.8L598.6 66.7L599.1 46.2L599.6 65.4L600.2 60.7L599.2 62.0L600.4 63.4L599.4 64.8L600.6 66.2L599.6 67.7L600.8 69.2L599.8 70.7L601.0 72.2L600.0 73.8L601.2 75.4L600.2 76.9L601.4 78.5L600.4 80.1L601.6 81.8L600.6 83.4L601.8 85.0L600.8 86.7L602.0 88.3L601.0 90.0L602.2 91.7L601.2 93.3L602.5 95.0L601.5 96.7L602.7 98.4L601.7 100.2L602.9 101.9L601.9 103.6L603.1 105.3L602.1 107.1L603.3 108.8L602.3 110.6L603.5 112.3L602.5 114.1L603.7 115.8L602.7 117.6L603.9 101.7L603.7 78.8L604.6 42.0L604.6 7.6L604.9 79.5L605.1 33.0L605.4 73.2L605.7 44.9L606.1 74.9L606.4 51.2L606.9 62.7L607.3 52.0L607.8 66.7L608.2 62.5L608.7 54.7L609.3 60.8L608.3 62.1L609.5 63.4L608.5 64.8L609.7 66.3L608.7 67.8L609.9 69.3L608.9 70.8L610.1 72.4L609.1 73.9L610.3 75.5L609.3 77.1L610.5 78.7L609.5 80.4L610.7 82.0L609.8 83.7L611.0 85.3L610.0 87.0L611.2 88.7L610.2 90.3L611.4 92.0L610.4 93.7L611.6 95.4L610.6 97.2L611.8 98.9L610.8 100.6L612.0 102.4L611.0 104.1L612.2 105.9L611.2 107.6L612.4 109.4L611.4 111.1L612.6 112.9L611.6 114.7L612.8 116.5L611.8 118.3L613.0 102.2L612.7 75.2L613.7 42.2L613.7 0.1L614.0 76.4L614.3 46.4L614.5 78.6L614.8 46.2L615.2 79.6L615.6 54.1L616.1 64.4L616.5 52.9L617.0 68.7L617.5 55.8L618.0 56.6L618.6 60.8L617.6 62.1L618.9 63.5L617.9 65.0L619.1 66.5L618.1 68.0L619.3 69.5L618.3 71.1L619.5 72.7L618.5 74.3L619.7 75.9L618.7 77.5L619.9 79.2L618.9 80.8L620.1 82.5L619.1 84.2L620.3 85.9L619.3 87.6L620.6 89.3L619.6 91.0L620.8 92.8L619.8 94.5L621.0 96.3L620.0 98.0L621.2 99.8L620.2 101.5L621.4 103.3L620.4 105.1L621.6 106.9L620.6 108.7L621.8 110.5L620.8 112.3L622.0 114.1L621.0 115.9L622.3 117.8L621.3 119.6L622.5 106.2L622.3 78.7L623.2 46.2L623.2 5.0L623.5 78.8L623.8 39.0L624.1 74.1L624.3 51.3L624.7 71.5L625.1 52.7L625.5 64.5L626.0 56.3L626.4 66.9L626.9 58.1L627.4 64.9L628.0 60.7L627.0 62.0L628.2 63.4L627.2 64.8L628.4 66.2L627.4 67.6L628.6 69.1L627.6 70.6L628.8 72.2L627.8 73.7L629.0 75.3L628.0 76.8L629.2 78.4L628.2 80.0L629.4 81.6L628.4 83.3L629.6 84.9L628.6 86.5L629.8 88.2L628.8 89.8L630.0 91.5L629.0 93.2L630.2 94.8L629.2 96.5L630.4 98.2L629.4 99.9L630.6 101.6L629.7 103.4L630.9 105.1L629.9 106.8L631.1 108.5L630.1 110.3L631.3 112.0L630.3 113.8L631.5 115.5L630.5 117.3L631.7 101.5L631.4 77.5L632.4 42.4L632.4 0.1L632.7 78.9L632.9 40.5L633.2 82.3L633.5 47.6L633.9 76.0L634.2 44.9L634.7 69.6L635.2 53.9L635.6 60.7L636.1 58.6L636.5 56.0L637.2 60.8L636.2 62.1L637.4 63.5L636.4 64.9L637.6 66.4L636.6 67.9L637.8 69.5L636.8 71.1L638.0 72.6L637.0 74.2L638.2 75.9L637.2 77.5L638.4 79.1L637.4 80.8L638.6 82.5L637.6 84.1L638.8 85.8L637.8 87.5L639.0 89.2L638.0 91.0L639.2 92.7L638.2 94.4L639.5 96.2L638.5 97.9L639.7 99.7L638.7 101.4L639.9 103.2L638.9 105.0L640.1 106.8L639.1 108.6L640.3 110.4L639.3 112.2L640.5 114.0L639.5 115.8L640.7 117.6L639.7 119.4L640.9 98.8L640.7 80.1L641.6 45.2L641.6 6.3L641.9 78.5L642.2 40.8L642.5 83.2L642.8 45.9L643.1 72.0L643.5 52.8L644.0 69.8L644.5 54.7L644.9 63.0L645.4 55.7L645.9 60.6L646.5 60.8L645.5 62.2L646.7 63.6L645.7 65.1L646.9 66.6L645.9 68.1L647.2 69.7L646.2 71.3L647.4 72.9L646.4 74.5L647.6 76.2L646.6 77.8L647.8 79.5L646.8 81.2L648.0 82.9L647.0 84.6L648.2 86.3L647.2 88.1L648.4 89.8L647.4 91.6L648.6 93.3L647.6 95.1L648.8 96.9L647.8 98.7L649.0 100.5L648.0 102.3L649.2 104.1L648.3 105.9L649.5 107.7L648.5 109.5L649.7 111.4L648.7 113.2L649.9 115.0L648.9 116.9L650.1 118.8L649.1 120.6L650.3 106.4L650.1 81.3L651.0 41.5L651.1 8.5L651.3 77.1L651.6 38.1L651.9 77.7L652.2 46.8L652.6 83.2L653.0 53.5L653.5 72.3L654.0 48.9L654.4 65.4L654.9 63.8L655.4 59.5L656.1 60.8L655.1 62.1L656.3 63.6L655.3 65.0L656.5 66.5L655.5 68.1L656.7 69.6L655.7 71.2L656.9 72.8L655.9 74.4L657.1 76.1L656.1 77.7L657.3 79.4L656.4 81.1L657.6 82.8L656.6 84.5L657.8 86.2L656.8 87.9L658.0 89.7L657.0 91.4L658.2 93.2L657.2 94.9L658.4 96.7L657.4 98.5L658.6 100.3L657.6 102.1L658.8 103.9L657.9 105.7L659.1 107.5L658.1 109.3L659.3 111.1L658.3 112.9L659.5 114.8L658.5 116.6L659.7 118.5L658.7 120.3L659.9 104.9L659.7 73.2L660.7 40.6L660.7 8.1L661.0 81.1L661.2 42.9L661.5 76.7L661.8 45.4L662.1 73.8L662.5 50.1L663.0 73.6L663.4 54.9L663.9 66.8L664.3 64.4L664.8 54.8L665.4 60.8L664.4 62.2L665.6 63.6L664.6 65.1L665.8 66.6L664.8 68.1L666.0 69.7L665.0 71.3L666.2 72.9L665.2 74.5L666.4 76.2L665.4 77.9L666.6 79.5L665.6 81.2L666.8 82.9L665.8 84.6L667.0 86.4L666.0 88.1L667.2 89.9L666.2 91.6L667.4 93.4L666.4 95.1L667.6 96.9L666.6 98.7L667.8 100.5L666.8 102.3L668.0 104.1L667.0 105.9L668.2 107.8L667.2 109.6L668.4 111.4L667.4 113.3L668.6 115.1L667.6 117.0L668.8 118.8L667.8 120.7L669.0 101.0L668.8 77.1L669.7 46.4L669.7 0.1L670.0 80.2L670.2 41.1L670.5 71.0L670.8 42.5L671.2 74.7L671.5 51.8L672.0 69.2L672.4 56.1L672.9 64.2L673.3 57.8L673.8 65.7L674.4 60.8L673.4 62.1L674.6 63.5L673.6 64.9L674.8 66.3L673.8 67.8L675.1 69.4L674.1 70.9L675.3 72.5L674.3 74.0L675.5 75.6L674.5 77.3L675.7 78.9L674.7 80.5L675.9 82.2L674.9 83.8L676.1 85.5L675.1 87.2L676.3 88.9L675.3 90.6L676.5 92.3L675.5 94.0L676.7 95.7L675.7 97.4L676.9 99.2L675.9 100.9L677.1 102.7L676.1 104.4L677.3 106.2L676.3 107.9L677.5 109.7L676.5 111.5L677.7 113.3L676.7 115.1L677.9 116.9L676.9 118.7L678.1 104.1L677.9 78.4L678.8 45.7" stroke="#ff0000" stroke-width="1.25" fill="none" stroke-linejoin="round" clip-path="url(#cb1)"/><clipPath id="cb2"><rect x="393.4" y="148.6" width="280.7" height="121.9"/></clipPath><path d="M394.5 215.4L395.0 212.8L395.5 210.3L396.0 208.0L396.5 206.2L397.0 205.0L397.5 204.1L398.0 203.3L398.5 202.6L399.0 201.9L399.5 201.4L400.0 201.0L400.5 200.7L401.0 200.5L401.5 200.6L402.0 200.9L402.5 201.5L403.0 202.3L403.5 203.3L404.0 204.2L404.5 205.2L405.0 206.0L405.5 206.9L406.0 207.9L406.5 209.0L407.0 210.0L407.5 210.7L408.0 211.2L408.5 211.3L409.0 211.0L409.5 210.5L410.0 210.0L410.5 209.4L411.0 209.0L411.5 208.6L412.0 208.3L412.5 208.0L413.0 207.8L413.5 207.7L414.0 207.8L414.5 208.1L415.0 208.5L415.5 208.9L416.0 209.2L416.5 209.5L417.0 209.7L417.5 209.9L418.0 210.0L418.5 209.3L419.0 210.1L419.5 210.8L420.0 211.2L420.5 210.9L421.0 210.2L421.5 209.3L422.0 208.7L422.5 208.6L423.0 208.8L423.5 209.2L424.0 209.4L424.5 209.3L425.0 209.3L425.5 209.6L426.0 210.2L426.5 211.0L427.0 211.4L427.5 211.1L428.0 210.2L428.5 209.2L429.0 208.6L429.5 208.5L430.0 208.9L430.5 209.1L431.0 209.1L431.5 209.0L432.0 209.2L432.5 209.9L433.0 210.8L433.5 211.4L434.0 211.2L434.5 210.4L435.0 209.4L435.5 208.9L436.0 209.0L436.5 209.1L437.0 209.0L437.5 208.6L438.0 208.5L438.5 209.1L439.0 210.1L439.5 211.0L440.0 211.2L440.5 210.6L441.0 209.8L441.5 209.4L442.0 209.4L442.5 209.5L443.0 209.2L443.5 208.7L444.0 208.3L444.5 208.7L445.0 209.6L445.5 210.5L446.0 210.8L446.5 210.4L447.0 209.7L447.5 209.3L448.0 209.3L448.5 209.5L449.0 209.5L449.5 209.2L450.0 208.7L450.5 208.6L451.0 209.0L451.5 209.8L452.0 210.4L452.5 210.5L453.0 210.0L453.5 209.3L454.0 208.8L454.5 208.9L455.0 209.3L455.5 209.6L456.0 209.6L456.5 209.2L457.0 208.9L457.5 208.8L458.0 209.1L458.5 209.7L459.0 210.0L459.5 210.0L460.0 209.5L460.5 208.9L461.0 208.5L461.5 208.6L462.0 209.0L462.5 209.5L463.0 209.7L463.5 209.5L464.0 209.0L464.5 208.7L465.0 208.7L465.5 209.0L466.0 209.5L466.5 209.6L467.0 209.4L467.5 208.8L468.0 208.4L468.5 208.3L469.0 208.6L469.5 209.2L470.0 209.5L470.5 209.4L471.0 208.9L471.5 208.5L472.0 208.4L472.5 208.8L473.0 209.2L473.5 209.3L474.0 208.8L474.5 208.1L475.0 207.8L475.5 208.0L476.0 208.6L476.5 209.1L477.0 209.1L477.5 208.6L478.0 208.3L478.5 208.4L479.0 208.9L479.5 209.2L480.0 208.9L480.5 208.2L481.0 207.4L481.5 207.3L482.0 207.7L482.5 208.3L483.0 208.4L483.5 208.1L484.0 207.8L484.5 208.1L485.0 208.8L485.5 209.3L486.0 209.2L486.5 208.4L487.0 207.5L487.5 207.1L488.0 207.2L488.5 207.5L489.0 207.4L489.5 207.1L490.0 208.3L490.5 208.0L491.0 207.1L491.5 205.9L492.0 204.4L492.5 202.8L493.0 201.2L493.5 199.8L494.0 198.8L494.5 198.1L495.0 198.1L495.5 198.9L496.0 200.4L496.5 202.6L497.0 205.2L497.5 208.2L498.0 211.3L498.5 214.4L499.0 217.3L499.5 220.0L500.0 222.7L500.5 225.9L501.0 229.3L501.5 232.7L502.0 236.1L502.5 239.2L503.0 241.9L503.5 243.9L504.0 245.2L504.5 245.5L505.0 244.5L505.5 242.3L506.0 239.1L506.5 235.0L507.0 230.4L507.5 225.2L508.0 219.9L508.5 214.5L509.0 209.2L509.5 204.3L510.0 200.0L510.5 195.7L511.0 191.0L511.5 185.9L512.0 180.7L512.5 175.5L513.0 170.4L513.5 165.6L514.0 161.2L514.5 157.5L515.0 154.5L515.5 152.4L516.0 151.3L516.5 151.5L517.0 153.1L517.5 156.1L518.0 160.1L518.5 165.0L519.0 170.5L519.5 176.5L520.0 182.6L520.5 188.8L521.0 194.7L521.5 200.2L522.0 205.0L522.5 209.7L523.0 214.8L523.5 220.2L524.0 225.8L524.5 231.4L525.0 236.9L525.5 242.3L526.0 247.3L526.5 251.8L527.0 255.7L527.5 259.0L528.0 261.4L528.5 262.8L529.0 263.2L529.5 262.6L530.0 261.2L530.5 259.1L531.0 256.4L531.5 253.3L532.0 249.8L532.5 246.1L533.0 242.3L533.5 238.4L534.0 234.7L534.5 231.2L535.0 228.0L535.5 224.8L536.0 221.2L536.5 217.3L537.0 213.2L537.5 209.1L538.0 205.0L538.5 201.1L539.0 197.4L539.5 194.2L540.0 191.4L540.5 189.2L541.0 187.8L541.5 187.1L542.0 187.3L542.5 188.0L543.0 189.2L543.5 190.7L544.0 192.4L544.5 194.4L545.0 196.3L545.5 198.2L546.0 200.0L546.5 202.0L547.0 204.3L547.5 206.9L548.0 209.3L548.5 211.3L549.0 212.8L549.5 213.3L550.0 213.1L550.5 212.4L551.0 211.5L551.5 210.4L552.0 209.3L552.5 208.2L553.0 207.5L553.5 207.0L554.0 207.0L554.5 207.0L555.0 207.0L555.5 207.0L556.0 207.3L556.5 207.2L557.0 206.9L557.5 206.6L558.0 206.6L558.5 206.7L559.0 206.6L559.5 206.1L560.0 205.5L560.5 205.0L561.0 205.2L561.5 206.0L562.0 207.1L562.5 207.8L563.0 207.8L563.5 207.2L564.0 206.6L564.5 206.3L565.0 206.3L565.5 206.2L566.0 205.7L566.5 205.2L567.0 205.0L567.5 205.6L568.0 206.7L568.5 207.8L569.0 208.0L569.5 207.6L570.0 206.8L570.5 206.3L571.0 206.2L571.5 206.2L572.0 205.8L572.5 205.2L573.0 204.9L573.5 205.4L574.0 206.5L574.5 207.6L575.0 207.9L575.5 207.6L576.0 206.9L576.5 206.5L577.0 206.5L577.5 206.5L578.0 206.1L578.5 205.5L579.0 205.0L579.5 205.1L580.0 205.9L580.5 207.0L581.0 207.6L581.5 207.6L582.0 207.1L582.5 206.6L583.0 206.5L583.5 206.6L584.0 206.7L584.5 206.4L585.0 205.8L585.5 205.3L586.0 205.2L586.5 205.8L587.0 206.6L587.5 207.3L588.0 207.5L588.5 207.1L589.0 206.6L589.5 206.3L590.0 206.3L590.5 206.6L591.0 206.7L591.5 206.6L592.0 206.2L592.5 205.8L593.0 205.6L593.5 205.8L594.0 206.5L594.5 207.1L595.0 207.3L595.5 207.1L596.0 206.6L596.5 206.1L597.0 206.0L597.5 206.3L598.0 206.7L598.5 206.9L599.0 206.7L599.5 206.3L600.0 205.9L600.5 205.9L601.0 206.3L601.5 206.9L602.0 207.2L602.5 207.0L603.0 206.5L603.5 206.1L604.0 206.0L604.5 206.4L605.0 206.9L605.5 207.0L606.0 206.7L606.5 206.1L607.0 205.9L607.5 206.2L608.0 206.8L608.5 207.3L609.0 207.1L609.5 206.6L610.0 206.1L610.5 206.2L611.0 206.6L611.5 207.0L612.0 206.9L612.5 206.3L613.0 205.8L613.5 206.0L614.0 206.7L614.5 207.3L615.0 207.4L615.5 206.9L616.0 206.4L616.5 206.3L617.0 206.7L617.5 207.0L618.0 206.8L618.5 206.2L619.0 205.7L619.5 205.9L620.0 206.6L620.5 207.4L621.0 207.7L621.5 207.4L622.0 206.8L622.5 206.5L623.0 206.7L623.5 206.9L624.0 206.7L624.5 206.2L625.0 205.7L625.5 205.6L626.0 206.3L626.5 207.3L627.0 208.0L627.5 208.2L628.0 207.7L628.5 207.0L629.0 206.5L629.5 206.4L630.0 206.4L630.5 206.4L631.0 206.2L631.5 205.9L632.0 205.9L632.5 206.4L633.0 207.3L633.5 208.2L634.0 208.6L634.5 208.3L635.0 207.5L635.5 206.5L636.0 205.9L636.5 205.7L637.0 206.0L637.5 206.4L638.0 206.6L638.5 206.7L639.0 206.8L639.5 207.1L640.0 207.6L640.5 208.3L641.0 208.6L641.5 208.3L642.0 207.5L642.5 206.5L643.0 205.7L643.5 205.5L644.0 205.9L644.5 206.6L645.0 207.1L645.5 207.3L646.0 207.3L646.5 207.3L647.0 207.7L647.5 208.3L648.0 208.6L648.5 208.3L649.0 207.5L649.5 206.5L650.0 205.9L650.5 206.1L651.0 206.6L651.5 207.1L652.0 207.2L652.5 207.1L653.0 207.0L653.5 207.5L654.0 208.2L654.5 208.7L655.0 208.5L655.5 207.7L656.0 206.9L656.5 206.7L657.0 207.0L657.5 207.4L658.0 207.4L658.5 207.0L659.0 206.7L659.5 207.0L660.0 207.8L660.5 208.5L661.0 208.5L661.5 208.0L662.0 207.3L662.5 207.2L663.0 207.6L663.5 208.0L664.0 207.9L664.5 207.4L665.0 207.0L665.5 207.0L666.0 207.6L666.5 208.3L667.0 208.5L667.5 208.1L668.0 207.6L668.5 207.3L669.0 207.6L669.5 208.1L670.0 208.4L670.5 208.2L671.0 207.6L671.5 207.3L672.0 207.4L672.5 208.0L673.0 208.5" stroke="#0000ff" stroke-width="1" fill="none" stroke-linejoin="round" clip-path="url(#cb2)"/><clipPath id="cb3"><rect x="392.4" y="293.9" width="280.4" height="121.8"/></clipPath><path d="M393.0 353.3L393.5 352.2L394.0 351.0L394.5 349.7L395.0 348.2L395.5 346.7L396.0 345.0L396.5 342.9L397.0 340.3L397.5 337.3L398.0 334.2L398.5 331.2L399.0 328.7L399.5 326.8L400.0 325.8L400.5 325.8L401.0 326.1L401.5 326.8L402.0 327.7L402.5 328.8L403.0 330.1L403.5 331.5L404.0 333.0L404.5 335.2L405.0 338.5L405.5 342.5L406.0 346.9L406.5 351.1L407.0 355.0L407.5 358.8L408.0 362.9L408.5 367.3L409.0 371.8L409.5 376.1L410.0 380.2L410.5 383.9L411.0 387.0L411.5 389.3L412.0 390.7L412.5 391.1L413.0 390.1L413.5 387.9L414.0 384.7L414.5 380.9L415.0 376.6L415.5 372.1L416.0 367.7L416.5 363.6L417.0 360.0L417.5 356.6L418.0 352.9L418.5 349.0L419.0 345.0L419.5 341.1L420.0 337.2L420.5 333.6L421.0 330.2L421.5 327.4L422.0 325.0L422.5 323.3L423.0 322.4L423.5 322.3L424.0 322.9L424.5 324.1L425.0 325.7L425.5 327.6L426.0 329.8L426.5 332.0L427.0 334.7L427.5 338.3L428.0 342.4L428.5 346.7L429.0 351.0L429.5 355.0L430.0 359.0L430.5 363.3L431.0 367.9L431.5 372.7L432.0 377.4L432.5 381.8L433.0 386.0L433.5 389.6L434.0 392.6L434.5 394.8L435.0 396.0L435.5 396.1L436.0 395.0L436.5 393.0L437.0 390.0L437.5 386.4L438.0 382.4L438.5 377.9L439.0 373.4L439.5 368.8L440.0 364.4L440.5 360.5L441.0 357.0L441.5 353.7L442.0 350.1L442.5 346.4L443.0 342.6L443.5 338.8L444.0 335.2L444.5 331.7L445.0 328.7L445.5 326.0L446.0 323.9L446.5 322.4L447.0 321.7L447.5 321.7L448.0 322.5L448.5 323.8L449.0 325.7L449.5 327.9L450.0 330.4L450.5 333.0L451.0 336.8L451.5 342.3L452.0 348.5L452.5 354.7L453.0 360.0L453.5 364.7L454.0 369.7L454.5 374.8L455.0 379.8L455.5 384.4L456.0 388.6L456.5 392.0L457.0 394.5L457.5 396.0L458.0 396.1L458.5 394.8L459.0 392.4L459.5 389.1L460.0 385.0L460.5 380.4L461.0 375.6L461.5 370.7L462.0 366.0L462.5 361.7L463.0 358.0L463.5 354.6L464.0 350.9L464.5 347.0L465.0 343.1L465.5 339.3L466.0 335.5L466.5 332.0L467.0 328.9L467.5 326.1L468.0 323.9L468.5 322.3L469.0 321.4L469.5 321.3L470.0 322.1L470.5 323.5L471.0 325.6L471.5 327.9L472.0 330.5L472.5 333.0L473.0 335.9L473.5 339.6L474.0 343.7L474.5 348.1L475.0 352.4L475.5 356.5L476.0 360.0L476.5 363.3L477.0 366.7L477.5 370.2L478.0 373.7L478.5 377.1L479.0 380.3L479.5 383.2L480.0 385.8L480.5 388.0L481.0 389.7L481.5 390.7L482.0 391.1L482.5 390.4L483.0 388.5L483.5 385.6L484.0 382.0L484.5 377.7L485.0 373.1L485.5 368.3L486.0 363.5L486.5 359.0L487.0 355.0L487.5 350.7L488.0 345.8L488.5 341.2L489.0 337.6L489.5 336.0L490.0 335.6L490.5 335.3L491.0 335.1L491.5 335.0L492.0 334.9L492.5 334.9L493.0 335.1L493.5 335.3L494.0 335.6L494.5 336.0L495.0 336.8L495.5 338.3L496.0 340.3L496.5 342.7L497.0 345.3L497.5 348.0L498.0 350.6L498.5 353.0L499.0 355.0L499.5 356.8L500.0 358.8L500.5 360.8L501.0 362.7L501.5 364.6L502.0 366.4L502.5 368.0L503.0 369.3L503.5 370.3L504.0 370.8L504.5 371.0L505.0 370.9L505.5 370.6L506.0 370.2L506.5 369.6L507.0 369.0L507.5 368.2L508.0 367.4L508.5 366.6L509.0 365.7L509.5 364.9L510.0 364.0L510.5 363.0L511.0 361.8L511.5 360.5L512.0 359.2L512.5 358.0L513.0 357.0L513.5 356.1L514.0 355.2L514.5 354.7L515.0 354.7L515.5 354.7L516.0 354.7L516.5 354.7L517.0 354.7L517.5 354.7L518.0 354.7L518.5 354.7L519.0 355.0L519.5 356.4L520.0 358.5L520.5 360.5L521.0 362.0L521.5 362.9L522.0 363.7L522.5 364.3L523.0 364.6L523.5 364.9L524.0 365.2L524.5 365.4L525.0 365.6L525.5 365.7L526.0 365.8L526.5 365.8L527.0 365.6L527.5 365.2L528.0 364.7L528.5 364.0L529.0 363.1L529.5 362.2L530.0 361.3L530.5 360.3L531.0 359.3L531.5 358.0L532.0 356.4L532.5 354.7L533.0 353.0L533.5 351.4L534.0 350.0L534.5 348.7L535.0 347.3L535.5 346.0L536.0 344.8L536.5 343.9L537.0 343.4L537.5 343.3L538.0 343.3L538.5 343.3L539.0 343.3L539.5 343.3L540.0 343.3L540.5 343.3L541.0 343.5L541.5 344.4L542.0 345.8L542.5 347.7L543.0 349.9L543.5 352.4L544.0 355.0L544.5 357.6L545.0 360.3L545.5 362.8L546.0 365.0L546.5 367.3L547.0 369.8L547.5 372.6L548.0 375.5L548.5 378.4L549.0 381.1L549.5 383.6L550.0 385.8L550.5 387.5L551.0 388.7L551.5 389.2L552.0 388.8L552.5 387.1L553.0 384.4L553.5 380.8L554.0 376.6L554.5 372.0L555.0 367.2L555.5 362.3L556.0 357.7L556.5 353.5L557.0 350.0L557.5 346.7L558.0 343.0L558.5 339.3L559.0 335.6L559.5 332.0L560.0 328.7L560.5 325.9L561.0 323.6L561.5 322.1L562.0 321.4L562.5 321.6L563.0 322.5L563.5 324.0L564.0 325.9L564.5 328.1L565.0 330.5L565.5 333.0L566.0 336.2L566.5 340.6L567.0 345.6L567.5 350.9L568.0 355.8L568.5 360.0L569.0 363.7L569.5 367.7L570.0 371.6L570.5 375.6L571.0 379.4L571.5 383.1L572.0 386.5L572.5 389.4L573.0 392.0L573.5 393.9L574.0 395.2L574.5 395.8L575.0 395.4L575.5 393.8L576.0 391.3L576.5 388.0L577.0 384.0L577.5 379.7L578.0 375.1L578.5 370.4L579.0 365.9L579.5 361.7L580.0 358.0L580.5 354.4L581.0 350.3L581.5 346.1L582.0 341.7L582.5 337.4L583.0 333.4L583.5 329.7L584.0 326.6L584.5 324.1L585.0 322.6L585.5 322.0L586.0 322.3L586.5 323.2L587.0 324.5L587.5 326.3L588.0 328.3L588.5 330.6L589.0 333.0L589.5 336.5L590.0 341.6L590.5 347.4L591.0 353.1L591.5 358.0L592.0 362.3L592.5 366.8L593.0 371.3L593.5 375.9L594.0 380.2L594.5 384.3L595.0 387.9L595.5 391.0L596.0 393.4L596.5 395.1L597.0 395.8L597.5 395.5L598.0 394.2L598.5 392.0L599.0 389.2L599.5 385.7L600.0 381.9L600.5 377.8L601.0 373.5L601.5 369.3L602.0 365.2L602.5 361.4L603.0 358.0L603.5 354.7L604.0 350.9L604.5 347.0L605.0 342.9L605.5 338.9L606.0 335.0L606.5 331.4L607.0 328.2L607.5 325.5L608.0 323.5L608.5 322.3L609.0 322.0L609.5 322.6L610.0 323.9L610.5 325.8L611.0 328.0L611.5 330.5L612.0 333.0L612.5 336.1L613.0 340.1L613.5 344.6L614.0 349.4L614.5 354.0L615.0 358.0L615.5 361.8L616.0 365.9L616.5 370.1L617.0 374.3L617.5 378.4L618.0 382.4L618.5 386.0L619.0 389.2L619.5 391.9L620.0 394.0L620.5 395.3L621.0 395.8L621.5 395.3L622.0 393.9L622.5 391.8L623.0 389.0L623.5 385.6L624.0 381.9L624.5 377.9L625.0 373.7L625.5 369.5L626.0 365.4L626.5 361.5L627.0 358.0L627.5 354.3L628.0 350.1L628.5 345.5L629.0 340.8L629.5 336.2L630.0 331.9L630.5 328.1L631.0 325.1L631.5 323.0L632.0 322.0L632.5 322.2L633.0 323.0L633.5 324.4L634.0 326.1L634.5 328.2L635.0 330.5L635.5 333.0L636.0 336.5L636.5 341.6L637.0 347.4L637.5 353.1L638.0 358.0L638.5 362.3L639.0 366.9L639.5 371.5L640.0 376.1L640.5 380.5L641.0 384.6L641.5 388.3L642.0 391.4L642.5 393.7L643.0 395.3L643.5 395.8L644.0 395.4L644.5 394.2L645.0 392.3L645.5 389.9L646.0 386.9L646.5 383.6L647.0 380.0L647.5 376.3L648.0 372.4L648.5 368.5L649.0 364.8L649.5 361.2L650.0 358.0L650.5 354.7L651.0 350.8L651.5 346.7L652.0 342.5L652.5 338.2L653.0 334.1L653.5 330.4L654.0 327.1L654.5 324.6L655.0 322.8L655.5 322.0L656.0 322.2L656.5 323.0L657.0 324.4L657.5 326.1L658.0 328.2L658.5 330.5L659.0 333.0L659.5 336.6L660.0 341.6L660.5 347.5L661.0 353.2L661.5 358.0L662.0 362.2L662.5 366.7L663.0 371.1L663.5 375.6L664.0 379.9L664.5 383.9L665.0 387.5L665.5 390.6L666.0 393.1L666.5 394.8L667.0 395.7L667.5 395.7L668.0 395.2L668.5 394.2L669.0 392.7L669.5 390.8L670.0 388.3L670.5 385.2L671.0 381.7L671.5 377.5L672.0 372.8" stroke="#0000ff" stroke-width="1" fill="none" stroke-linejoin="round" clip-path="url(#cb3)"/><clipPath id="cb4"><rect x="392.4" y="439.0" width="280.4" height="121.7"/></clipPath><path d="M393.6 503.4L394.1 507.8L394.6 512.2L395.1 516.3L395.6 520.0L396.1 522.9L396.6 524.8L397.1 525.5L397.6 525.5L398.1 525.5L398.6 525.5L399.1 525.5L399.6 525.5L400.1 525.5L400.6 525.5L401.1 525.5L401.6 525.5L402.1 525.5L402.6 525.5L403.1 525.5L403.6 525.3L404.1 524.3L404.6 522.9L405.1 521.1L405.6 519.2L406.1 517.2L406.6 515.3L407.1 513.7L407.6 512.3L408.1 510.8L408.6 509.4L409.1 508.0L409.6 506.5L410.1 505.1L410.6 503.8L411.1 502.4L411.6 501.1L412.1 499.7L412.6 498.4L413.1 496.9L413.6 495.5L414.1 494.1L414.6 492.8L415.1 491.6L415.6 490.6L416.1 489.9L416.6 489.2L417.1 488.5L417.6 487.8L418.1 487.2L418.6 486.7L419.1 486.2L419.6 485.9L420.1 485.7L420.6 485.6L421.1 485.7L421.6 485.9L422.1 486.3L422.6 486.8L423.1 487.3L423.6 488.0L424.1 488.7L424.6 489.4L425.1 490.2L425.6 491.1L426.1 492.3L426.6 493.7L427.1 495.2L427.6 496.9L428.1 498.6L428.6 500.4L429.1 502.1L429.6 503.8L430.1 505.3L430.6 506.9L431.1 508.5L431.6 510.2L432.1 511.9L432.6 513.5L433.1 515.1L433.6 516.6L434.1 518.0L434.6 519.2L435.1 520.2L435.6 521.1L436.1 522.1L436.6 523.0L437.1 523.8L437.6 524.5L438.1 525.1L438.6 525.4L439.1 525.5L439.6 525.2L440.1 524.6L440.6 523.7L441.1 522.6L441.6 521.4L442.1 520.1L442.6 518.9L443.1 517.8L443.6 516.7L444.1 515.5L444.6 514.2L445.1 512.9L445.6 511.6L446.1 510.3L446.6 508.9L447.1 507.5L447.6 506.1L448.1 504.7L448.6 503.2L449.1 501.7L449.6 500.0L450.1 498.3L450.6 496.7L451.1 495.0L451.6 493.5L452.1 492.1L452.6 490.9L453.1 489.8L453.6 488.8L454.1 487.8L454.6 486.8L455.1 485.8L455.6 484.9L456.1 484.2L456.6 483.6L457.1 483.1L457.6 482.9L458.1 483.0L458.6 483.3L459.1 483.9L459.6 484.7L460.1 485.7L460.6 486.7L461.1 487.9L461.6 489.1L462.1 490.2L462.6 491.5L463.1 493.0L463.6 494.6L464.1 496.3L464.6 498.2L465.1 500.2L465.6 502.2L466.1 504.2L466.6 506.3L467.1 508.4L467.6 510.4L468.1 512.4L468.6 514.5L469.1 516.8L469.6 519.3L470.1 521.7L470.6 524.1L471.1 526.5L471.6 528.6L472.1 530.5L472.6 532.0L473.1 533.2L473.6 534.2L474.1 535.2L474.6 536.2L475.1 537.0L475.6 537.8L476.1 538.4L476.6 538.8L477.1 539.1L477.6 539.1L478.1 538.6L478.6 537.7L479.1 536.4L479.6 534.9L480.1 533.2L480.6 531.4L481.1 529.6L481.6 527.6L482.1 525.2L482.6 522.4L483.1 519.4L483.6 516.2L484.1 512.9L484.6 509.5L485.1 506.0L485.6 502.6L486.1 499.3L486.6 495.8L487.1 491.9L487.6 487.9L488.1 483.9L488.6 480.1L489.1 476.7L489.6 473.8L490.1 471.6L490.6 469.7L491.1 467.8L491.6 466.0L492.1 464.3L492.6 462.8L493.1 461.5L493.6 460.5L494.1 459.8L494.6 459.4L495.1 459.5L495.6 459.9L496.1 460.5L496.6 461.5L497.1 462.6L497.6 463.9L498.1 465.4L498.6 466.8L499.1 468.3L499.6 470.1L500.1 472.2L500.6 474.6L501.1 477.3L501.6 480.2L502.1 483.2L502.6 486.3L503.1 489.5L503.6 492.6L504.1 495.6L504.6 498.7L505.1 502.0L505.6 505.5L506.1 509.0L506.6 512.6L507.1 516.2L507.6 519.8L508.1 523.3L508.6 526.6L509.1 529.8L509.6 532.8L510.1 535.5L510.6 538.3L511.1 541.2L511.6 544.2L512.1 547.1L512.6 549.9L513.1 552.5L513.6 554.9L514.1 556.8L514.6 558.3L515.1 559.3L515.6 559.6L516.1 559.4L516.6 558.7L517.1 557.7L517.6 556.5L518.1 555.0L518.6 553.4L519.1 551.6L519.6 549.3L520.1 546.2L520.6 542.5L521.1 538.5L521.6 534.3L522.1 530.2L522.6 525.6L523.1 520.5L523.6 515.0L524.1 509.4L524.6 503.8L525.1 498.5L525.6 493.5L526.1 489.2L526.6 484.9L527.1 480.7L527.6 476.5L528.1 472.6L528.6 469.0L529.1 465.9L529.6 463.5L530.1 461.7L530.6 460.2L531.1 458.8L531.6 457.6L532.1 456.4L532.6 455.5L533.1 454.8L533.6 454.4L534.1 454.3L534.6 454.5L535.1 454.9L535.6 455.5L536.1 456.2L536.6 457.1L537.1 458.1L537.6 459.1L538.1 460.2L538.6 461.7L539.1 463.7L539.6 466.1L540.1 468.8L540.6 471.6L541.1 474.6L541.6 477.6L542.1 480.6L542.6 483.7L543.1 487.2L543.6 490.9L544.1 494.7L544.6 498.5L545.1 502.3L545.6 506.0L546.1 509.5L546.6 512.7L547.1 515.5L547.6 518.4L548.1 521.3L548.6 524.2L549.1 527.2L549.6 530.0L550.1 532.8L550.6 535.4L551.1 537.7L551.6 539.8L552.1 541.5L552.6 542.8L553.1 543.7L553.6 544.1L554.1 543.9L554.6 543.2L555.1 541.9L555.6 540.3L556.1 538.4L556.6 536.2L557.1 533.9L557.6 531.5L558.1 529.1L558.6 526.7L559.1 524.6L559.6 522.3L560.1 519.8L560.6 517.2L561.1 514.5L561.6 511.8L562.1 509.1L562.6 506.4L563.1 503.9L563.6 501.7L564.1 499.6L564.6 497.6L565.1 495.6L565.6 493.6L566.1 491.8L566.6 490.1L567.1 488.7L567.6 487.6L568.1 486.9L568.6 486.3L569.1 485.8L569.6 485.3L570.1 484.9L570.6 484.5L571.1 484.2L571.6 484.0L572.1 483.9L572.6 483.9L573.1 484.1L573.6 484.5L574.1 485.1L574.6 485.8L575.1 486.6L575.6 487.4L576.1 488.2L576.6 489.1L577.1 490.2L577.6 491.4L578.1 492.7L578.6 494.1L579.1 495.5L579.6 496.9L580.1 498.3L580.6 499.7L581.1 501.2L581.6 502.8L582.1 504.4L582.6 506.0L583.1 507.5L583.6 508.9L584.1 510.2L584.6 511.3L585.1 512.2L585.6 513.0L586.1 513.7L586.6 514.5L587.1 515.2L587.6 515.9L588.1 516.4L588.6 516.9L589.1 517.2L589.6 517.4L590.1 517.4L590.6 517.2L591.1 517.0L591.6 516.6L592.1 516.1L592.6 515.6L593.1 515.0L593.6 514.5L594.1 513.9L594.6 513.2L595.1 512.4L595.6 511.6L596.1 510.6L596.6 509.6L597.1 508.6L597.6 507.6L598.1 506.6L598.6 505.7L599.1 504.8L599.6 504.0L600.1 503.2L600.6 502.3L601.1 501.5L601.6 500.7L602.1 500.0L602.6 499.4L603.1 498.9L603.6 498.4L604.1 497.9L604.6 497.4L605.1 497.1L605.6 496.8L606.1 496.6L606.6 496.6L607.1 496.6L607.6 496.6L608.1 496.6L608.6 496.6L609.1 496.6L609.6 496.6L610.1 496.6L610.6 496.6L611.1 496.6L611.6 496.6L612.1 496.6L612.6 496.9L613.1 497.4L613.6 498.0L614.1 498.8L614.6 499.6L615.1 500.5L615.6 501.3L616.1 502.2L616.6 503.1L617.1 504.1L617.6 505.2L618.1 506.3L618.6 507.4L619.1 508.5L619.6 509.4L620.1 510.1L620.6 510.8L621.1 511.5L621.6 512.2L622.1 512.9L622.6 513.5L623.1 514.0L623.6 514.5L624.1 514.8L624.6 515.0L625.1 515.0L625.6 515.0L626.1 515.0L626.6 515.0L627.1 515.0L627.6 515.0L628.1 515.0L628.6 515.0L629.1 515.0L629.6 515.0L630.1 515.0L630.6 515.0L631.1 515.0L631.6 515.0L632.1 515.0L632.6 515.0L633.1 514.9L633.6 514.5L634.1 513.8L634.6 513.1L635.1 512.2L635.6 511.3L636.1 510.4L636.6 509.6L637.1 508.9L637.6 508.2L638.1 507.4L638.6 506.7L639.1 505.9L639.6 505.2L640.1 504.5L640.6 503.8L641.1 503.1L641.6 502.5L642.1 501.9L642.6 501.3L643.1 500.7L643.6 500.1L644.1 499.5L644.6 498.9L645.1 498.3L645.6 497.8L646.1 497.4L646.6 497.0L647.1 496.8L647.6 496.6L648.1 496.6L648.6 496.6L649.1 496.6L649.6 496.6L650.1 496.6L650.6 496.6L651.1 496.6L651.6 496.6L652.1 496.6L652.6 496.6L653.1 496.6L653.6 496.6L654.1 496.6L654.6 496.6L655.1 496.6L655.6 496.6L656.1 496.6L656.6 496.6L657.1 496.6L657.6 496.6L658.1 496.6L658.6 496.8L659.1 497.1L659.6 497.5L660.1 498.0L660.6 498.6L661.1 499.1L661.6 499.6L662.1 500.1L662.6 500.6L663.1 501.2L663.6 501.8L664.1 502.5L664.6 503.1L665.1 503.7L665.6 504.1L666.1 504.5L666.6 504.7L667.1 504.9L667.6 505.1L668.1 505.2L668.6 505.3L669.1 505.5L669.6 505.6L670.1 505.6L670.6 505.7L671.1 505.8L671.6 505.8" stroke="#ff0000" stroke-width="1" fill="none" stroke-linejoin="round" clip-path="url(#cb4)"/><clipPath id="cb5"><rect x="388.5" y="587.0" width="281.0" height="122.0"/></clipPath><path d="M390.0 650.8L390.5 653.4L391.0 655.6L391.5 657.5L392.0 659.0L392.5 660.1L393.0 660.8L393.5 661.0L394.0 660.6L394.5 659.5L395.0 658.1L395.5 656.7L396.0 655.4L396.5 654.6L397.0 654.4L397.5 654.8L398.0 655.6L398.5 656.6L399.0 657.7L399.5 658.8L400.0 659.8L400.5 660.7L401.0 661.5L401.5 662.3L402.0 663.1L402.5 664.0L403.0 665.0L403.5 666.3L404.0 668.0L404.5 669.9L405.0 671.7L405.5 673.2L406.0 674.2L406.5 674.5L407.0 674.3L407.5 673.7L408.0 673.0L408.5 672.0L409.0 670.8L409.5 669.5L410.0 668.1L410.5 666.7L411.0 664.9L411.5 662.6L412.0 659.8L412.5 656.7L413.0 653.4L413.5 649.9L414.0 646.5L414.5 643.1L415.0 640.0L415.5 636.7L416.0 633.0L416.5 629.1L417.0 625.2L417.5 621.7L418.0 618.7L418.5 616.5L419.0 615.3L419.5 615.4L420.0 616.2L420.5 617.7L421.0 619.7L421.5 621.9L422.0 624.4L422.5 626.9L423.0 629.5L423.5 632.5L424.0 636.0L424.5 639.9L425.0 644.0L425.5 648.2L426.0 652.3L426.5 656.3L427.0 660.0L427.5 663.8L428.0 667.9L428.5 672.3L429.0 676.8L429.5 681.1L430.0 685.1L430.5 688.7L431.0 691.7L431.5 693.9L432.0 695.1L432.5 695.3L433.0 694.9L433.5 694.3L434.0 693.4L434.5 692.4L435.0 691.2L435.5 689.5L436.0 686.9L436.5 683.6L437.0 679.9L437.5 675.9L438.0 672.0L438.5 668.3L439.0 665.0L439.5 661.9L440.0 658.6L440.5 655.1L441.0 651.8L441.5 648.5L442.0 645.6L442.5 643.0L443.0 641.0L443.5 639.6L444.0 638.9L444.5 638.4L445.0 637.9L445.5 637.5L446.0 637.3L446.5 637.1L447.0 637.2L447.5 638.6L448.0 641.0L448.5 643.7L449.0 646.2L449.5 647.9L450.0 649.5L450.5 651.2L451.0 652.8L451.5 654.3L452.0 655.7L452.5 656.8L453.0 657.7L453.5 658.3L454.0 658.5L454.5 658.4L455.0 658.3L455.5 658.1L456.0 657.7L456.5 657.4L457.0 657.0L457.5 656.5L458.0 655.8L458.5 654.6L459.0 653.2L459.5 651.5L460.0 649.8L460.5 648.1L461.0 646.6L461.5 645.4L462.0 644.4L462.5 643.3L463.0 642.4L463.5 641.6L464.0 641.2L464.5 641.3L465.0 641.9L465.5 642.8L466.0 644.1L466.5 645.5L467.0 647.0L467.5 648.8L468.0 651.1L468.5 653.9L469.0 657.0L469.5 660.2L470.0 663.6L470.5 666.9L471.0 670.0L471.5 673.3L472.0 677.1L472.5 681.2L473.0 685.4L473.5 689.7L474.0 693.7L474.5 697.3L475.0 700.5L475.5 702.9L476.0 704.5L476.5 705.1L477.0 704.7L477.5 703.6L478.0 702.0L478.5 700.1L479.0 697.9L479.5 694.8L480.0 690.3L480.5 684.8L481.0 678.5L481.5 671.7L482.0 664.7L482.5 657.7L483.0 651.1L483.5 645.1L484.0 640.0L484.5 635.3L485.0 630.3L485.5 625.2L486.0 620.1L486.5 615.2L487.0 610.6L487.5 606.4L488.0 602.7L488.5 599.7L489.0 597.6L489.5 596.4L490.0 596.2L490.5 596.6L491.0 597.2L491.5 598.1L492.0 599.2L492.5 600.5L493.0 601.8L493.5 603.2L494.0 605.1L494.5 607.5L495.0 610.3L495.5 613.4L496.0 616.7L496.5 620.1L497.0 623.5L497.5 626.8L498.0 630.0L498.5 633.2L499.0 636.5L499.5 639.9L500.0 643.4L500.5 646.9L501.0 650.4L501.5 653.9L502.0 657.4L502.5 660.7L503.0 664.0L503.5 667.1L504.0 670.0L504.5 672.9L505.0 676.0L505.5 679.2L506.0 682.4L506.5 685.6L507.0 688.8L507.5 691.9L508.0 694.8L508.5 697.5L509.0 700.0L509.5 702.1L510.0 703.9L510.5 705.3L511.0 706.2L511.5 706.6L512.0 706.5L512.5 706.1L513.0 705.3L513.5 704.4L514.0 703.2L514.5 701.9L515.0 700.5L515.5 699.0L516.0 697.3L516.5 695.0L517.0 692.0L517.5 688.6L518.0 684.7L518.5 680.6L519.0 676.4L519.5 672.0L520.0 667.8L520.5 663.7L521.0 660.0L521.5 656.4L522.0 652.6L522.5 648.8L523.0 645.0L523.5 641.2L524.0 637.6L524.5 634.1L525.0 630.8L525.5 627.7L526.0 625.0L526.5 622.4L527.0 619.7L527.5 617.0L528.0 614.3L528.5 611.7L529.0 609.2L529.5 606.9L530.0 604.8L530.5 602.9L531.0 601.3L531.5 600.1L532.0 599.4L532.5 599.0L533.0 599.2L533.5 599.8L534.0 600.8L534.5 602.2L535.0 603.9L535.5 605.9L536.0 608.0L536.5 610.3L537.0 612.7L537.5 615.0L538.0 617.6L538.5 620.7L539.0 624.4L539.5 628.5L540.0 632.8L540.5 637.4L541.0 642.1L541.5 646.8L542.0 651.4L542.5 655.9L543.0 660.0L543.5 664.2L544.0 668.9L544.5 673.8L545.0 678.9L545.5 684.0L546.0 688.9L546.5 693.5L547.0 697.7L547.5 701.3L548.0 704.2L548.5 706.3L549.0 707.3L549.5 707.1L550.0 705.5L550.5 702.6L551.0 698.7L551.5 694.1L552.0 689.1L552.5 684.0L553.0 678.9L553.5 674.1L554.0 670.0L554.5 666.0L555.0 661.7L555.5 657.3L556.0 652.9L556.5 648.7L557.0 645.0L557.5 641.9L558.0 639.6L558.5 638.3L559.0 637.4L559.5 636.6L560.0 635.9L560.5 635.2L561.0 634.7L561.5 634.4L562.0 634.2L562.5 634.1L563.0 634.7L563.5 635.8L564.0 637.4L564.5 639.3L565.0 641.3L565.5 643.3L566.0 645.0L566.5 646.7L567.0 648.6L567.5 650.6L568.0 652.7L568.5 654.8L569.0 656.7L569.5 658.3L570.0 659.7L570.5 660.6L571.0 661.0L571.5 660.8L572.0 660.2L572.5 659.3L573.0 658.2L573.5 657.0L574.0 656.0L574.5 655.0L575.0 653.7L575.5 652.4L576.0 651.0L576.5 649.5L577.0 648.1L577.5 646.6L578.0 645.3L578.5 644.1L579.0 643.0L579.5 642.2L580.0 641.6L580.5 641.3L581.0 641.4L581.5 641.9L582.0 642.8L582.5 643.9L583.0 645.2L583.5 646.6L584.0 648.0L584.5 649.5L585.0 651.4L585.5 653.5L586.0 655.8L586.5 658.2L587.0 660.5L587.5 662.8L588.0 665.0L588.5 667.2L589.0 669.7L589.5 672.4L590.0 675.1L590.5 677.6L591.0 680.0L591.5 682.1L592.0 683.7L592.5 684.7L593.0 685.1L593.5 684.5L594.0 682.8L594.5 680.2L595.0 677.0L595.5 673.3L596.0 669.3L596.5 665.3L597.0 661.4L597.5 657.9L598.0 655.0L598.5 652.3L599.0 649.5L599.5 646.6L600.0 643.7L600.5 640.7L601.0 637.9L601.5 635.1L602.0 632.5L602.5 630.2L603.0 628.1L603.5 626.4L604.0 625.1L604.5 624.2L605.0 623.8L605.5 624.0L606.0 624.9L606.5 626.3L607.0 628.1L607.5 630.2L608.0 632.4L608.5 634.6L609.0 636.9L609.5 639.9L610.0 643.3L610.5 647.0L611.0 650.9L611.5 654.8L612.0 658.5L612.5 662.0L613.0 665.0L613.5 667.9L614.0 670.9L614.5 674.0L615.0 676.9L615.5 679.7L616.0 682.0L616.5 683.9L617.0 685.1L617.5 685.5L618.0 685.0L618.5 683.6L619.0 681.5L619.5 679.0L620.0 676.1L620.5 673.0L621.0 670.1L621.5 667.3L622.0 665.0L622.5 662.9L623.0 660.6L623.5 658.2L624.0 655.7L624.5 653.3L625.0 651.0L625.5 648.7L626.0 646.7L626.5 644.9L627.0 643.4L627.5 642.3L628.0 641.6L628.5 641.3L629.0 641.5L629.5 642.0L630.0 642.9L630.5 644.0L631.0 645.3L631.5 646.8L632.0 648.4L632.5 650.0L633.0 652.3L633.5 655.5L634.0 659.1L634.5 662.3L635.0 664.7L635.5 666.4L636.0 668.1L636.5 669.7L637.0 671.2L637.5 672.5L638.0 673.6L638.5 674.4L639.0 674.9L639.5 675.0L640.0 674.4L640.5 673.2L641.0 671.3L641.5 669.1L642.0 666.4L642.5 663.6L643.0 660.6L643.5 657.6L644.0 654.8L644.5 652.2L645.0 650.0L645.5 647.9L646.0 645.7L646.5 643.3L647.0 641.0L647.5 638.6L648.0 636.2L648.5 634.0L649.0 631.9L649.5 630.0L650.0 628.4L650.5 627.0L651.0 626.0L651.5 625.5L652.0 625.3L652.5 625.7L653.0 626.5L653.5 627.6L654.0 629.1L654.5 630.8L655.0 632.7L655.5 634.6L656.0 636.9L656.5 640.2L657.0 644.2L657.5 648.5L658.0 652.8L658.5 656.7L659.0 660.0L659.5 662.9L660.0 665.9L660.5 669.0L661.0 671.9L661.5 674.5L662.0 676.8L662.5 678.5L663.0 679.7L663.5 680.1L664.0 679.6L664.5 678.3L665.0 676.5L665.5 674.6L666.0 673.0L666.5 671.6L667.0 670.2L667.5 668.8L668.0 667.4L668.5 666.1L669.0 664.7" stroke="#0000ff" stroke-width="1" fill="none" stroke-linejoin="round" clip-path="url(#cb5)"/><g font-family='"Liberation Serif", serif' font-size="15" fill="#000"><text x="48.5" y="26.8" text-anchor="end">1.5</text><text x="48.5" y="51.6" text-anchor="end">1.05</text><text x="48.5" y="76.5" text-anchor="end">0.6</text><text x="48.5" y="101.3" text-anchor="end">0.15</text><text x="48.5" y="126.2" text-anchor="end">-0.3</text><text transform="translate(7.0 64.6) rotate(-90)" text-anchor="middle" x="0" y="5.3">IMF1</text><text x="47.4" y="159.8" text-anchor="end">2.5</text><text x="47.4" y="183.0" text-anchor="end">1.5</text><text x="47.4" y="206.3" text-anchor="end">0.5</text><text x="47.4" y="229.5" text-anchor="end">-0.5</text><text x="47.4" y="252.8" text-anchor="end">-1.5</text><text x="47.4" y="276.0" text-anchor="end">-2.5</text><text transform="translate(5.6 213.7) rotate(-90)" text-anchor="middle" x="0" y="5.3">IMF2</text><text x="46.5" y="304.8" text-anchor="end">4</text><text x="46.5" y="333.9" text-anchor="end">2</text><text x="46.5" y="362.9" text-anchor="end">0</text><text x="46.5" y="392.0" text-anchor="end">-2</text><text x="46.5" y="421.1" text-anchor="end">-4</text><text transform="translate(16.9 358.6) rotate(-90)" text-anchor="middle" x="0" y="5.3">IMF3</text><text x="44.9" y="449.3" text-anchor="end">2</text><text x="44.9" y="488.1" text-anchor="end">1</text><text x="44.9" y="526.9" text-anchor="end">0</text><text x="44.9" y="565.7" text-anchor="end">-1</text><text transform="translate(14.5 502.7) rotate(-90)" text-anchor="middle" x="0" y="5.3">IMF4</text><text x="38.6" y="598.2" text-anchor="end">1</text><text x="38.6" y="656.4" text-anchor="end">0</text><text x="38.6" y="714.6" text-anchor="end">-1</text><text transform="translate(8.4 651.6) rotate(-90)" text-anchor="middle" x="0" y="5.0" font-family="Liberation Sans, sans-serif" font-size="14.5">IMF5</text><text x="391.6" y="15.5" text-anchor="end">3</text><text x="391.6" y="34.1" text-anchor="end">2</text><text x="391.6" y="52.7" text-anchor="end">1</text><text x="391.6" y="71.2" text-anchor="end">0</text><text x="391.6" y="89.8" text-anchor="end">-1</text><text x="391.6" y="108.4" text-anchor="end">-2</text><text x="391.6" y="127.0" text-anchor="end">-3</text><text transform="translate(347.6 62.3) rotate(-90)" text-anchor="middle" x="0" y="5.3">IMF1</text><text x="387.4" y="153.3" text-anchor="end">2.5</text><text x="387.4" y="177.5" text-anchor="end">1.5</text><text x="387.4" y="201.7" text-anchor="end">0.5</text><text x="387.4" y="225.8" text-anchor="end">-0.5</text><text x="387.4" y="250.0" text-anchor="end">-1.5</text><text x="387.4" y="274.2" text-anchor="end">-2.5</text><text transform="translate(343.6 209.2) rotate(-90)" text-anchor="middle" x="0" y="5.3">IMF2</text><text x="386.4" y="298.6" text-anchor="end">4</text><text x="386.4" y="328.8" text-anchor="end">2</text><text x="386.4" y="359.0" text-anchor="end">0</text><text x="386.4" y="389.2" text-anchor="end">-2</text><text x="386.4" y="419.4" text-anchor="end">-4</text><text transform="translate(353.6 354.4) rotate(-90)" text-anchor="middle" x="0" y="5.3">IMF3</text><text x="386.4" y="443.7" text-anchor="end">6</text><text x="386.4" y="463.8" text-anchor="end">4</text><text x="386.4" y="483.9" text-anchor="end">2</text><text x="386.4" y="504.1" text-anchor="end">0</text><text x="386.4" y="524.2" text-anchor="end">-2</text><text x="386.4" y="544.3" text-anchor="end">-4</text><text x="386.4" y="564.4" text-anchor="end">-6</text><text transform="translate(353.6 499.8) rotate(-90)" text-anchor="middle" x="0" y="5.3">IMF4</text><text x="382.5" y="591.7" text-anchor="end">2</text><text x="382.5" y="622.0" text-anchor="end">1</text><text x="382.5" y="652.2" text-anchor="end">0</text><text x="382.5" y="682.5" text-anchor="end">-1</text><text x="382.5" y="712.7" text-anchor="end">-2</text><text transform="translate(350.5 647.7) rotate(-90)" text-anchor="middle" x="0" y="5.3">IMF5</text><text x="45.1" y="732.5" text-anchor="middle">0</text><text x="98.9" y="732.5" text-anchor="middle">1000</text><text x="152.7" y="732.5" text-anchor="middle">2000</text><text x="206.4" y="732.5" text-anchor="middle">3000</text><text x="260.2" y="732.5" text-anchor="middle">4000</text><text x="314.0" y="732.5" text-anchor="middle">5000</text><text x="389.0" y="731.2" text-anchor="middle">0</text><text x="445.0" y="731.2" text-anchor="middle">1000</text><text x="501.0" y="731.2" text-anchor="middle">2000</text><text x="557.0" y="731.2" text-anchor="middle">3000</text><text x="613.0" y="731.2" text-anchor="middle">4000</text><text x="669.0" y="731.2" text-anchor="middle">5000</text><text x="179.5" y="750" text-anchor="middle">Samples</text><text x="529" y="748.8" text-anchor="middle">Samples</text><text x="173.2" y="779" text-anchor="middle" font-size="21">(a)</text><text x="527" y="779" text-anchor="middle" font-size="21">(b)</text></g></svg></body></html>
